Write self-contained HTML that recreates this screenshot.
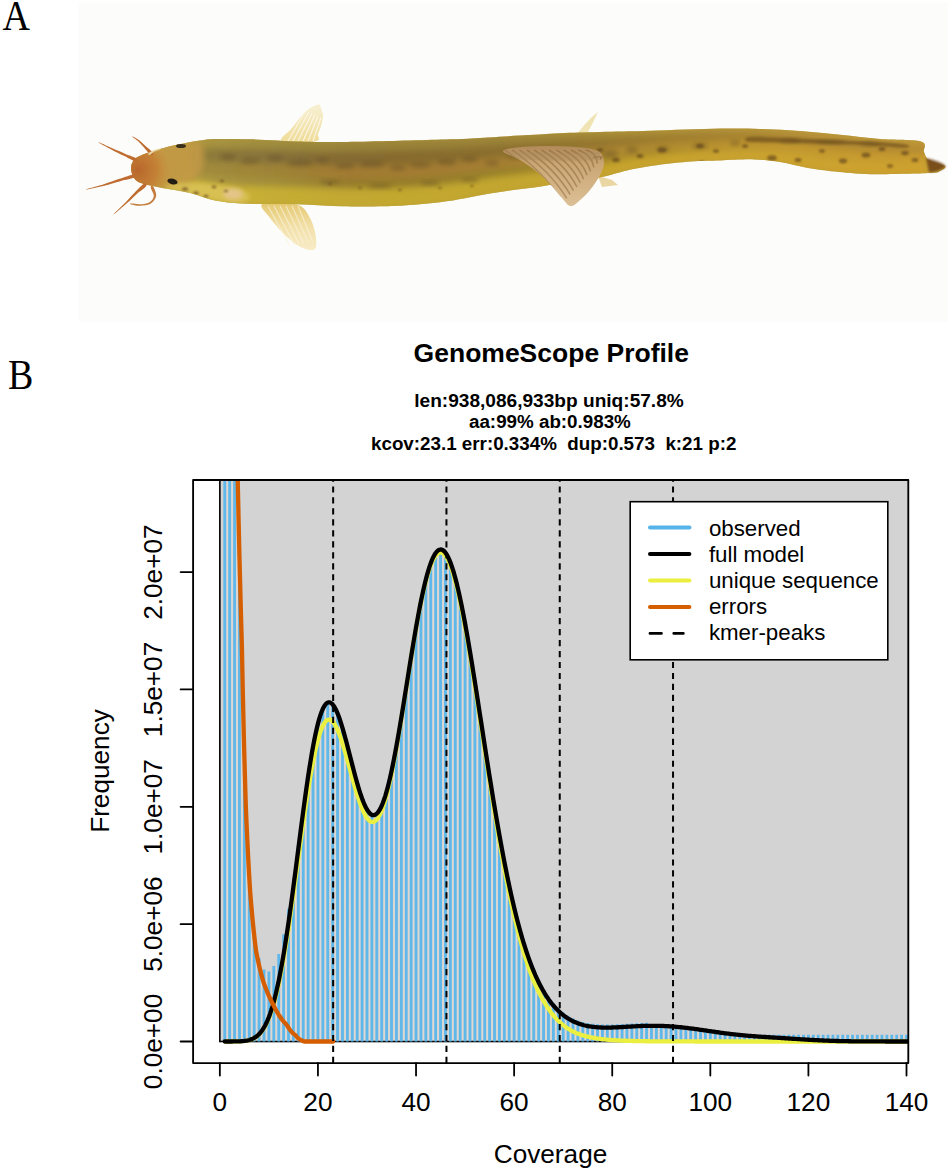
<!DOCTYPE html>
<html><head><meta charset="utf-8"><style>
html,body{margin:0;padding:0;background:#fff;width:950px;height:1172px;overflow:hidden}
svg{display:block;font-family:"Liberation Sans",sans-serif}
.ax{font-size:26.2px;fill:#000}
.ti{font-size:26.5px;font-weight:bold;fill:#000}
.st{font-size:18.8px;font-weight:bold;fill:#000}
.lg{font-size:22.3px;fill:#000}
.pl{font-family:"Liberation Serif",serif;font-size:38px;fill:#000}
</style></head><body>
<svg width="950" height="1172" viewBox="0 0 950 1172">
<rect x="78.5" y="2.5" width="869" height="319" fill="#fcfcfa"/>
<g id="fish"><defs><filter id="b2" x="-10%" y="-50%" width="120%" height="200%"><feGaussianBlur stdDeviation="2"/></filter><filter id="b3" x="-10%" y="-50%" width="120%" height="200%"><feGaussianBlur stdDeviation="3"/></filter><filter id="b5" x="-30%" y="-50%" width="160%" height="200%"><feGaussianBlur stdDeviation="5"/></filter><filter id="b1" x="-50%" y="-50%" width="200%" height="200%"><feGaussianBlur stdDeviation="1"/></filter><clipPath id="fb"><path d="M131.0 168.0 C131.0 165.0 132.2 162.2 134.0 160.0 C135.8 157.8 137.7 156.8 142.0 155.0 C146.3 153.2 154.0 150.8 160.0 149.0 C166.0 147.2 171.3 145.9 178.0 144.5 C184.7 143.1 193.8 141.4 200.0 140.5 C206.2 139.6 206.7 139.2 215.0 139.0 C223.3 138.8 235.8 138.9 250.0 139.3 C264.2 139.7 286.7 141.1 300.0 141.5 C313.3 141.9 318.3 142.0 330.0 142.0 C341.7 142.0 350.0 141.9 370.0 141.5 C390.0 141.1 430.3 140.0 450.0 139.3 C469.7 138.6 476.3 138.0 488.0 137.4 C499.7 136.8 508.0 136.3 520.0 135.6 C532.0 134.9 546.7 133.8 560.0 133.2 C573.3 132.6 585.0 132.4 600.0 132.0 C615.0 131.6 630.0 131.4 650.0 130.8 C670.0 130.2 701.7 128.9 720.0 128.6 C738.3 128.3 746.7 128.5 760.0 128.9 C773.3 129.3 786.7 130.0 800.0 131.0 C813.3 132.0 826.7 133.4 840.0 134.7 C853.3 136.0 866.5 137.9 880.0 139.0 C893.5 140.1 913.7 139.3 921.0 141.5 C928.3 143.7 922.7 148.9 924.0 152.0 C925.3 155.1 925.5 157.7 929.0 160.0 C932.5 162.3 943.2 164.2 945.0 166.0 C946.8 167.8 942.5 169.8 940.0 171.0 C937.5 172.2 941.5 172.5 930.0 173.0 C918.5 173.5 886.8 174.4 871.0 174.2 C855.2 173.9 845.5 172.5 835.0 171.5 C824.5 170.5 817.2 169.6 808.0 168.0 C798.8 166.4 789.0 163.4 780.0 162.0 C771.0 160.6 764.0 159.7 754.0 159.4 C744.0 159.1 729.8 160.1 720.0 160.4 C710.2 160.7 704.8 160.5 695.0 161.2 C685.2 161.9 672.3 163.0 661.0 164.6 C649.7 166.2 636.8 168.4 627.0 170.5 C617.2 172.6 611.5 175.2 602.0 177.0 C592.5 178.8 580.2 179.9 570.0 181.5 C559.8 183.1 550.2 185.1 541.0 186.5 C531.8 187.9 523.5 188.5 515.0 189.7 C506.5 190.9 498.3 192.1 490.0 193.5 C481.7 194.9 473.3 196.8 465.0 198.3 C456.7 199.8 449.2 201.2 440.0 202.3 C430.8 203.4 419.3 204.3 410.0 205.0 C400.7 205.7 395.3 206.1 384.0 206.3 C372.7 206.5 355.2 206.6 342.0 206.3 C328.8 206.0 317.0 204.9 305.0 204.5 C293.0 204.1 280.7 204.2 270.0 204.0 C259.3 203.8 250.2 204.1 241.0 203.5 C231.8 202.9 223.5 202.2 215.0 200.5 C206.5 198.8 199.2 195.2 190.0 193.0 C180.8 190.8 168.2 189.2 160.0 187.5 C151.8 185.8 145.3 184.6 141.0 183.0 C136.7 181.4 135.7 180.5 134.0 178.0 C132.3 175.5 131.0 171.0 131.0 168.0Z"/></clipPath><linearGradient id="fin1" x1="0" y1="0" x2="0" y2="1"><stop offset="0" stop-color="#f7f0d4"/><stop offset="1" stop-color="#efdc98"/></linearGradient><linearGradient id="fin2" x1="0" y1="0" x2="0" y2="1"><stop offset="0" stop-color="#e4c870"/><stop offset="0.5" stop-color="#f2e0a8"/><stop offset="1" stop-color="#f8ecc8"/></linearGradient><linearGradient id="pelg" x1="0" y1="0" x2="0" y2="1"><stop offset="0" stop-color="#b08a58"/><stop offset="0.3" stop-color="#caa674"/><stop offset="1" stop-color="#dcc096"/></linearGradient><radialGradient id="snout" cx="138" cy="170" r="34" gradientUnits="userSpaceOnUse"><stop offset="0" stop-color="#b8662c"/><stop offset="0.55" stop-color="#c47e34" stop-opacity="0.9"/><stop offset="1" stop-color="#c8923c" stop-opacity="0"/></radialGradient><linearGradient id="bg0" gradientUnits="userSpaceOnUse" x1="200" y1="0" x2="925" y2="0"><stop offset="0.000" stop-color="#a89440"/><stop offset="0.110" stop-color="#9c8a3c"/><stop offset="0.207" stop-color="#98823a"/><stop offset="0.414" stop-color="#9a8238"/><stop offset="0.621" stop-color="#a88a36"/><stop offset="0.828" stop-color="#b8923a"/><stop offset="1.000" stop-color="#c09638"/></linearGradient><linearGradient id="bg1" gradientUnits="userSpaceOnUse" x1="200" y1="0" x2="925" y2="0"><stop offset="0.000" stop-color="#8e7c3a"/><stop offset="0.110" stop-color="#86703a"/><stop offset="0.207" stop-color="#846a30"/><stop offset="0.414" stop-color="#8a6e2e"/><stop offset="0.621" stop-color="#9a7a2e"/><stop offset="0.828" stop-color="#aa8430"/><stop offset="1.000" stop-color="#b48a30"/></linearGradient><linearGradient id="bg2" gradientUnits="userSpaceOnUse" x1="200" y1="0" x2="925" y2="0"><stop offset="0.000" stop-color="#a08a3c"/><stop offset="0.110" stop-color="#9e8236"/><stop offset="0.207" stop-color="#a27a30"/><stop offset="0.414" stop-color="#a47e30"/><stop offset="0.621" stop-color="#b08a30"/><stop offset="0.828" stop-color="#c4982e"/><stop offset="1.000" stop-color="#c89a2e"/></linearGradient><linearGradient id="bg3" gradientUnits="userSpaceOnUse" x1="200" y1="0" x2="925" y2="0"><stop offset="0.000" stop-color="#a89440"/><stop offset="0.110" stop-color="#a08c38"/><stop offset="0.207" stop-color="#947a2c"/><stop offset="0.414" stop-color="#98802c"/><stop offset="0.621" stop-color="#ac8c2c"/><stop offset="0.828" stop-color="#c49c2e"/><stop offset="1.000" stop-color="#caa02e"/></linearGradient><linearGradient id="bg4" gradientUnits="userSpaceOnUse" x1="200" y1="0" x2="925" y2="0"><stop offset="0.000" stop-color="#ccb43a"/><stop offset="0.110" stop-color="#c4ac34"/><stop offset="0.207" stop-color="#c2a830"/><stop offset="0.414" stop-color="#c2a62e"/><stop offset="0.621" stop-color="#c8a42c"/><stop offset="0.828" stop-color="#cea42e"/><stop offset="1.000" stop-color="#d0a22e"/></linearGradient><linearGradient id="bg5" gradientUnits="userSpaceOnUse" x1="200" y1="0" x2="925" y2="0"><stop offset="0.000" stop-color="#ccb43a"/><stop offset="0.110" stop-color="#c6ae34"/><stop offset="0.207" stop-color="#c4aa30"/><stop offset="0.414" stop-color="#c4a62e"/><stop offset="0.621" stop-color="#caa22c"/><stop offset="0.828" stop-color="#cea02c"/><stop offset="1.000" stop-color="#cc9e2c"/></linearGradient></defs><path d="M282.0 141.0 C278.0 138.8 288.5 132.5 292.0 128.0 C295.5 123.5 299.7 117.5 303.0 114.0 C306.3 110.5 309.3 108.6 312.0 107.0 C314.7 105.4 317.5 104.3 319.0 104.5 C320.5 104.7 320.3 106.1 321.0 108.0 C321.7 109.9 323.0 113.0 323.0 116.0 C323.0 119.0 321.8 123.0 321.0 126.0 C320.2 129.0 318.8 131.5 318.0 134.0 C317.2 136.5 322.0 139.8 316.0 141.0 C310.0 142.2 286.0 143.2 282.0 141.0Z" fill="url(#fin1)"/><path d="M288 141 L306 110.0" stroke="#fffaf0" stroke-width="1.1" opacity="0.8"/><path d="M293 141 L309 111.5" stroke="#fffaf0" stroke-width="1.1" opacity="0.8"/><path d="M298 141 L312 113.0" stroke="#fffaf0" stroke-width="1.1" opacity="0.8"/><path d="M303 141 L315 114.5" stroke="#fffaf0" stroke-width="1.1" opacity="0.8"/><path d="M308 141 L318 116.0" stroke="#fffaf0" stroke-width="1.1" opacity="0.8"/><path d="M313 141 L321 117.5" stroke="#fffaf0" stroke-width="1.1" opacity="0.8"/><path d="M262.0 204.0 C258.7 206.3 266.5 213.2 270.0 218.0 C273.5 222.8 278.5 228.5 283.0 233.0 C287.5 237.5 292.5 242.2 297.0 245.0 C301.5 247.8 306.8 249.7 310.0 250.0 C313.2 250.3 315.2 250.0 316.0 247.0 C316.8 244.0 316.0 236.8 315.0 232.0 C314.0 227.2 312.2 222.2 310.0 218.0 C307.8 213.8 305.3 209.3 302.0 207.0 C298.7 204.7 296.7 204.5 290.0 204.0 C283.3 203.5 265.3 201.7 262.0 204.0Z" fill="url(#fin2)"/><path d="M268 206 L290.0 246" stroke="#fbf3dc" stroke-width="1.1" opacity="0.7"/><path d="M274 206 L294.5 245" stroke="#fbf3dc" stroke-width="1.1" opacity="0.7"/><path d="M280 206 L299.0 244" stroke="#fbf3dc" stroke-width="1.1" opacity="0.7"/><path d="M286 206 L303.5 243" stroke="#fbf3dc" stroke-width="1.1" opacity="0.7"/><path d="M292 206 L308.0 242" stroke="#fbf3dc" stroke-width="1.1" opacity="0.7"/><path d="M298 206 L312.5 241" stroke="#fbf3dc" stroke-width="1.1" opacity="0.7"/><path d="M577 134 C583 126 590 118 598 112 C594 121 590 128 587 134Z" fill="#f0e4b4"/><path d="M598 176 L612 180 L618 185 L602 187Z" fill="#ead6a2"/><path d="M131.0 168.0 C131.0 165.0 132.2 162.2 134.0 160.0 C135.8 157.8 137.7 156.8 142.0 155.0 C146.3 153.2 154.0 150.8 160.0 149.0 C166.0 147.2 171.3 145.9 178.0 144.5 C184.7 143.1 193.8 141.4 200.0 140.5 C206.2 139.6 206.7 139.2 215.0 139.0 C223.3 138.8 235.8 138.9 250.0 139.3 C264.2 139.7 286.7 141.1 300.0 141.5 C313.3 141.9 318.3 142.0 330.0 142.0 C341.7 142.0 350.0 141.9 370.0 141.5 C390.0 141.1 430.3 140.0 450.0 139.3 C469.7 138.6 476.3 138.0 488.0 137.4 C499.7 136.8 508.0 136.3 520.0 135.6 C532.0 134.9 546.7 133.8 560.0 133.2 C573.3 132.6 585.0 132.4 600.0 132.0 C615.0 131.6 630.0 131.4 650.0 130.8 C670.0 130.2 701.7 128.9 720.0 128.6 C738.3 128.3 746.7 128.5 760.0 128.9 C773.3 129.3 786.7 130.0 800.0 131.0 C813.3 132.0 826.7 133.4 840.0 134.7 C853.3 136.0 866.5 137.9 880.0 139.0 C893.5 140.1 913.7 139.3 921.0 141.5 C928.3 143.7 922.7 148.9 924.0 152.0 C925.3 155.1 925.5 157.7 929.0 160.0 C932.5 162.3 943.2 164.2 945.0 166.0 C946.8 167.8 942.5 169.8 940.0 171.0 C937.5 172.2 941.5 172.5 930.0 173.0 C918.5 173.5 886.8 174.4 871.0 174.2 C855.2 173.9 845.5 172.5 835.0 171.5 C824.5 170.5 817.2 169.6 808.0 168.0 C798.8 166.4 789.0 163.4 780.0 162.0 C771.0 160.6 764.0 159.7 754.0 159.4 C744.0 159.1 729.8 160.1 720.0 160.4 C710.2 160.7 704.8 160.5 695.0 161.2 C685.2 161.9 672.3 163.0 661.0 164.6 C649.7 166.2 636.8 168.4 627.0 170.5 C617.2 172.6 611.5 175.2 602.0 177.0 C592.5 178.8 580.2 179.9 570.0 181.5 C559.8 183.1 550.2 185.1 541.0 186.5 C531.8 187.9 523.5 188.5 515.0 189.7 C506.5 190.9 498.3 192.1 490.0 193.5 C481.7 194.9 473.3 196.8 465.0 198.3 C456.7 199.8 449.2 201.2 440.0 202.3 C430.8 203.4 419.3 204.3 410.0 205.0 C400.7 205.7 395.3 206.1 384.0 206.3 C372.7 206.5 355.2 206.6 342.0 206.3 C328.8 206.0 317.0 204.9 305.0 204.5 C293.0 204.1 280.7 204.2 270.0 204.0 C259.3 203.8 250.2 204.1 241.0 203.5 C231.8 202.9 223.5 202.2 215.0 200.5 C206.5 198.8 199.2 195.2 190.0 193.0 C180.8 190.8 168.2 189.2 160.0 187.5 C151.8 185.8 145.3 184.6 141.0 183.0 C136.7 181.4 135.7 180.5 134.0 178.0 C132.3 175.5 131.0 171.0 131.0 168.0Z" fill="#b89c38"/><g clip-path="url(#fb)"><g filter="url(#b3)"><path d="M190.0 141.1 L196.0 139.9 L202.0 138.9 L208.0 138.2 L214.0 137.6 L220.0 137.5 L226.0 137.5 L232.0 137.6 L238.0 137.6 L244.0 137.6 L250.0 137.7 L256.0 138.0 L262.0 138.2 L268.0 138.5 L274.0 138.8 L280.0 139.0 L286.0 139.3 L292.0 139.6 L298.0 139.8 L304.0 140.0 L310.0 140.1 L316.0 140.2 L322.0 140.3 L328.0 140.4 L334.0 140.4 L340.0 140.3 L346.0 140.2 L352.0 140.1 L358.0 140.0 L364.0 140.0 L370.0 139.9 L376.0 139.7 L382.0 139.5 L388.0 139.4 L394.0 139.2 L400.0 139.1 L406.0 138.9 L412.0 138.7 L418.0 138.6 L424.0 138.4 L430.0 138.3 L436.0 138.1 L442.0 138.0 L448.0 137.8 L454.0 137.6 L460.0 137.3 L466.0 137.0 L472.0 136.7 L478.0 136.5 L484.0 136.2 L490.0 135.9 L496.0 135.6 L502.0 135.2 L508.0 134.9 L514.0 134.6 L520.0 134.3 L526.0 133.9 L532.0 133.6 L538.0 133.2 L544.0 132.9 L550.0 132.5 L556.0 132.2 L562.0 131.9 L568.0 131.7 L574.0 131.6 L580.0 131.4 L586.0 131.2 L592.0 131.1 L598.0 130.9 L604.0 130.8 L610.0 130.7 L616.0 130.6 L622.0 130.5 L628.0 130.4 L634.0 130.2 L640.0 130.1 L646.0 130.0 L652.0 129.9 L658.0 129.7 L664.0 129.5 L670.0 129.3 L676.0 129.2 L682.0 129.0 L688.0 128.8 L694.0 128.6 L700.0 128.4 L706.0 128.2 L712.0 128.1 L718.0 127.9 L724.0 127.8 L730.0 127.9 L736.0 127.9 L742.0 128.0 L748.0 128.0 L754.0 128.1 L760.0 128.1 L766.0 128.4 L772.0 128.7 L778.0 129.0 L784.0 129.3 L790.0 129.6 L796.0 129.9 L802.0 130.3 L808.0 130.8 L814.0 131.4 L820.0 131.9 L826.0 132.5 L832.0 133.0 L838.0 133.6 L844.0 134.2 L850.0 134.9 L856.0 135.5 L862.0 136.2 L868.0 136.8 L874.0 137.5 L880.0 138.1 L886.0 138.5 L892.0 138.9 L898.0 139.2 L904.0 139.6 L910.0 140.0 L916.0 140.4 L922.0 140.7 L928.0 140.7 L928.0 146.4 L922.0 146.4 L916.0 146.1 L910.0 145.8 L904.0 145.5 L898.0 145.2 L892.0 144.9 L886.0 144.6 L880.0 144.3 L874.0 143.7 L868.0 143.1 L862.0 142.5 L856.0 141.9 L850.0 141.3 L844.0 140.7 L838.0 140.1 L832.0 139.5 L826.0 138.9 L820.0 138.4 L814.0 137.8 L808.0 137.2 L802.0 136.5 L796.0 136.0 L790.0 135.5 L784.0 135.1 L778.0 134.6 L772.0 134.3 L766.0 133.9 L760.0 133.6 L754.0 133.4 L748.0 133.4 L742.0 133.4 L736.0 133.4 L730.0 133.4 L724.0 133.4 L718.0 133.4 L712.0 133.6 L706.0 133.8 L700.0 134.0 L694.0 134.2 L688.0 134.4 L682.0 134.7 L676.0 135.0 L670.0 135.2 L664.0 135.5 L658.0 135.7 L652.0 136.1 L646.0 136.3 L640.0 136.6 L634.0 136.9 L628.0 137.2 L622.0 137.5 L616.0 137.9 L610.0 138.2 L604.0 138.6 L598.0 138.9 L592.0 139.2 L586.0 139.4 L580.0 139.7 L574.0 140.0 L568.0 140.3 L562.0 140.6 L556.0 141.0 L550.0 141.5 L544.0 141.9 L538.0 142.4 L532.0 142.8 L526.0 143.2 L520.0 143.6 L514.0 144.0 L508.0 144.4 L502.0 144.9 L496.0 145.3 L490.0 145.7 L484.0 146.2 L478.0 146.6 L472.0 147.0 L466.0 147.4 L460.0 147.8 L454.0 148.2 L448.0 148.6 L442.0 148.9 L436.0 149.1 L430.0 149.4 L424.0 149.6 L418.0 149.8 L412.0 150.0 L406.0 150.2 L400.0 150.4 L394.0 150.6 L388.0 150.8 L382.0 150.9 L376.0 151.1 L370.0 151.2 L364.0 151.3 L358.0 151.3 L352.0 151.4 L346.0 151.5 L340.0 151.5 L334.0 151.5 L328.0 151.5 L322.0 151.4 L316.0 151.3 L310.0 151.1 L304.0 151.0 L298.0 150.9 L292.0 150.6 L286.0 150.4 L280.0 150.1 L274.0 149.9 L268.0 149.7 L262.0 149.4 L256.0 149.2 L250.0 149.0 L244.0 148.9 L238.0 148.8 L232.0 148.6 L226.0 148.5 L220.0 148.3 L214.0 148.3 L208.0 148.5 L202.0 148.7 L196.0 149.3 L190.0 149.9Z" fill="url(#bg0)"/><path d="M190.0 149.9 L196.0 149.3 L202.0 148.7 L208.0 148.5 L214.0 148.3 L220.0 148.3 L226.0 148.5 L232.0 148.6 L238.0 148.8 L244.0 148.9 L250.0 149.0 L256.0 149.2 L262.0 149.4 L268.0 149.7 L274.0 149.9 L280.0 150.1 L286.0 150.4 L292.0 150.6 L298.0 150.9 L304.0 151.0 L310.0 151.1 L316.0 151.3 L322.0 151.4 L328.0 151.5 L334.0 151.5 L340.0 151.5 L346.0 151.5 L352.0 151.4 L358.0 151.3 L364.0 151.3 L370.0 151.2 L376.0 151.1 L382.0 150.9 L388.0 150.8 L394.0 150.6 L400.0 150.4 L406.0 150.2 L412.0 150.0 L418.0 149.8 L424.0 149.6 L430.0 149.4 L436.0 149.1 L442.0 148.9 L448.0 148.6 L454.0 148.2 L460.0 147.8 L466.0 147.4 L472.0 147.0 L478.0 146.6 L484.0 146.2 L490.0 145.7 L496.0 145.3 L502.0 144.9 L508.0 144.4 L514.0 144.0 L520.0 143.6 L526.0 143.2 L532.0 142.8 L538.0 142.4 L544.0 141.9 L550.0 141.5 L556.0 141.0 L562.0 140.6 L568.0 140.3 L574.0 140.0 L580.0 139.7 L586.0 139.4 L592.0 139.2 L598.0 138.9 L604.0 138.6 L610.0 138.2 L616.0 137.9 L622.0 137.5 L628.0 137.2 L634.0 136.9 L640.0 136.6 L646.0 136.3 L652.0 136.1 L658.0 135.7 L664.0 135.5 L670.0 135.2 L676.0 135.0 L682.0 134.7 L688.0 134.4 L694.0 134.2 L700.0 134.0 L706.0 133.8 L712.0 133.6 L718.0 133.4 L724.0 133.4 L730.0 133.4 L736.0 133.4 L742.0 133.4 L748.0 133.4 L754.0 133.4 L760.0 133.6 L766.0 133.9 L772.0 134.3 L778.0 134.6 L784.0 135.1 L790.0 135.5 L796.0 136.0 L802.0 136.5 L808.0 137.2 L814.0 137.8 L820.0 138.4 L826.0 138.9 L832.0 139.5 L838.0 140.1 L844.0 140.7 L850.0 141.3 L856.0 141.9 L862.0 142.5 L868.0 143.1 L874.0 143.7 L880.0 144.3 L886.0 144.6 L892.0 144.9 L898.0 145.2 L904.0 145.5 L910.0 145.8 L916.0 146.1 L922.0 146.4 L928.0 146.4 L928.0 153.8 L922.0 153.8 L916.0 153.6 L910.0 153.3 L904.0 153.1 L898.0 152.9 L892.0 152.7 L886.0 152.4 L880.0 152.2 L874.0 151.8 L868.0 151.3 L862.0 150.7 L856.0 150.2 L850.0 149.6 L844.0 149.0 L838.0 148.5 L832.0 147.9 L826.0 147.3 L820.0 146.6 L814.0 146.0 L808.0 145.3 L802.0 144.5 L796.0 143.8 L790.0 143.1 L784.0 142.4 L778.0 141.8 L772.0 141.4 L766.0 141.0 L760.0 140.6 L754.0 140.3 L748.0 140.3 L742.0 140.4 L736.0 140.4 L730.0 140.5 L724.0 140.5 L718.0 140.6 L712.0 140.8 L706.0 141.0 L700.0 141.2 L694.0 141.4 L688.0 141.7 L682.0 142.1 L676.0 142.4 L670.0 142.7 L664.0 143.1 L658.0 143.5 L652.0 144.0 L646.0 144.5 L640.0 145.0 L634.0 145.5 L628.0 146.0 L622.0 146.6 L616.0 147.3 L610.0 147.9 L604.0 148.6 L598.0 149.1 L592.0 149.6 L586.0 150.0 L580.0 150.4 L574.0 150.8 L568.0 151.3 L562.0 151.8 L556.0 152.4 L550.0 153.0 L544.0 153.6 L538.0 154.2 L532.0 154.7 L526.0 155.2 L520.0 155.7 L514.0 156.2 L508.0 156.7 L502.0 157.3 L496.0 157.8 L490.0 158.4 L484.0 159.0 L478.0 159.6 L472.0 160.2 L466.0 160.9 L460.0 161.4 L454.0 162.0 L448.0 162.5 L442.0 162.9 L436.0 163.3 L430.0 163.6 L424.0 163.9 L418.0 164.2 L412.0 164.5 L406.0 164.8 L400.0 165.0 L394.0 165.2 L388.0 165.4 L382.0 165.6 L376.0 165.7 L370.0 165.8 L364.0 165.8 L358.0 165.9 L352.0 165.9 L346.0 166.0 L340.0 166.0 L334.0 165.9 L328.0 165.8 L322.0 165.7 L316.0 165.5 L310.0 165.3 L304.0 165.2 L298.0 165.0 L292.0 164.8 L286.0 164.6 L280.0 164.4 L274.0 164.2 L268.0 164.0 L262.0 163.8 L256.0 163.6 L250.0 163.4 L244.0 163.4 L238.0 163.2 L232.0 162.9 L226.0 162.6 L220.0 162.3 L214.0 162.0 L208.0 161.7 L202.0 161.4 L196.0 161.3 L190.0 161.3Z" fill="url(#bg1)"/><path d="M190.0 161.3 L196.0 161.3 L202.0 161.4 L208.0 161.7 L214.0 162.0 L220.0 162.3 L226.0 162.6 L232.0 162.9 L238.0 163.2 L244.0 163.4 L250.0 163.4 L256.0 163.6 L262.0 163.8 L268.0 164.0 L274.0 164.2 L280.0 164.4 L286.0 164.6 L292.0 164.8 L298.0 165.0 L304.0 165.2 L310.0 165.3 L316.0 165.5 L322.0 165.7 L328.0 165.8 L334.0 165.9 L340.0 166.0 L346.0 166.0 L352.0 165.9 L358.0 165.9 L364.0 165.8 L370.0 165.8 L376.0 165.7 L382.0 165.6 L388.0 165.4 L394.0 165.2 L400.0 165.0 L406.0 164.8 L412.0 164.5 L418.0 164.2 L424.0 163.9 L430.0 163.6 L436.0 163.3 L442.0 162.9 L448.0 162.5 L454.0 162.0 L460.0 161.4 L466.0 160.9 L472.0 160.2 L478.0 159.6 L484.0 159.0 L490.0 158.4 L496.0 157.8 L502.0 157.3 L508.0 156.7 L514.0 156.2 L520.0 155.7 L526.0 155.2 L532.0 154.7 L538.0 154.2 L544.0 153.6 L550.0 153.0 L556.0 152.4 L562.0 151.8 L568.0 151.3 L574.0 150.8 L580.0 150.4 L586.0 150.0 L592.0 149.6 L598.0 149.1 L604.0 148.6 L610.0 147.9 L616.0 147.3 L622.0 146.6 L628.0 146.0 L634.0 145.5 L640.0 145.0 L646.0 144.5 L652.0 144.0 L658.0 143.5 L664.0 143.1 L670.0 142.7 L676.0 142.4 L682.0 142.1 L688.0 141.7 L694.0 141.4 L700.0 141.2 L706.0 141.0 L712.0 140.8 L718.0 140.6 L724.0 140.5 L730.0 140.5 L736.0 140.4 L742.0 140.4 L748.0 140.3 L754.0 140.3 L760.0 140.6 L766.0 141.0 L772.0 141.4 L778.0 141.8 L784.0 142.4 L790.0 143.1 L796.0 143.8 L802.0 144.5 L808.0 145.3 L814.0 146.0 L820.0 146.6 L826.0 147.3 L832.0 147.9 L838.0 148.5 L844.0 149.0 L850.0 149.6 L856.0 150.2 L862.0 150.7 L868.0 151.3 L874.0 151.8 L880.0 152.2 L886.0 152.4 L892.0 152.7 L898.0 152.9 L904.0 153.1 L910.0 153.3 L916.0 153.6 L922.0 153.8 L928.0 153.8 L928.0 160.3 L922.0 160.3 L916.0 160.2 L910.0 160.0 L904.0 159.9 L898.0 159.7 L892.0 159.6 L886.0 159.4 L880.0 159.2 L874.0 159.0 L868.0 158.6 L862.0 158.0 L856.0 157.5 L850.0 157.0 L844.0 156.4 L838.0 155.9 L832.0 155.3 L826.0 154.6 L820.0 154.0 L814.0 153.3 L808.0 152.6 L802.0 151.6 L796.0 150.7 L790.0 149.8 L784.0 149.0 L778.0 148.2 L772.0 147.7 L766.0 147.3 L760.0 146.8 L754.0 146.4 L748.0 146.5 L742.0 146.6 L736.0 146.7 L730.0 146.7 L724.0 146.8 L718.0 146.9 L712.0 147.1 L706.0 147.3 L700.0 147.5 L694.0 147.7 L688.0 148.2 L682.0 148.6 L676.0 149.0 L670.0 149.5 L664.0 149.9 L658.0 150.4 L652.0 151.1 L646.0 151.8 L640.0 152.4 L634.0 153.1 L628.0 153.8 L622.0 154.7 L616.0 155.6 L610.0 156.6 L604.0 157.5 L598.0 158.2 L592.0 158.8 L586.0 159.3 L580.0 159.9 L574.0 160.5 L568.0 161.1 L562.0 161.7 L556.0 162.5 L550.0 163.2 L544.0 164.0 L538.0 164.6 L532.0 165.2 L526.0 165.8 L520.0 166.4 L514.0 166.9 L508.0 167.6 L502.0 168.3 L496.0 168.9 L490.0 169.6 L484.0 170.4 L478.0 171.2 L472.0 172.0 L466.0 172.8 L460.0 173.5 L454.0 174.2 L448.0 174.8 L442.0 175.4 L436.0 175.9 L430.0 176.3 L424.0 176.7 L418.0 177.0 L412.0 177.4 L406.0 177.7 L400.0 177.9 L394.0 178.2 L388.0 178.4 L382.0 178.6 L376.0 178.7 L370.0 178.8 L364.0 178.8 L358.0 178.8 L352.0 178.9 L346.0 178.9 L340.0 178.9 L334.0 178.7 L328.0 178.6 L322.0 178.4 L316.0 178.1 L310.0 177.9 L304.0 177.7 L298.0 177.6 L292.0 177.5 L286.0 177.3 L280.0 177.1 L274.0 177.0 L268.0 176.8 L262.0 176.6 L256.0 176.5 L250.0 176.3 L244.0 176.2 L238.0 176.0 L232.0 175.6 L226.0 175.1 L220.0 174.7 L214.0 174.2 L208.0 173.5 L202.0 172.7 L196.0 172.0 L190.0 171.5Z" fill="url(#bg2)"/><path d="M190.0 171.5 L196.0 172.0 L202.0 172.7 L208.0 173.5 L214.0 174.2 L220.0 174.7 L226.0 175.1 L232.0 175.6 L238.0 176.0 L244.0 176.2 L250.0 176.3 L256.0 176.5 L262.0 176.6 L268.0 176.8 L274.0 177.0 L280.0 177.1 L286.0 177.3 L292.0 177.5 L298.0 177.6 L304.0 177.7 L310.0 177.9 L316.0 178.1 L322.0 178.4 L328.0 178.6 L334.0 178.7 L340.0 178.9 L346.0 178.9 L352.0 178.9 L358.0 178.8 L364.0 178.8 L370.0 178.8 L376.0 178.7 L382.0 178.6 L388.0 178.4 L394.0 178.2 L400.0 177.9 L406.0 177.7 L412.0 177.4 L418.0 177.0 L424.0 176.7 L430.0 176.3 L436.0 175.9 L442.0 175.4 L448.0 174.8 L454.0 174.2 L460.0 173.5 L466.0 172.8 L472.0 172.0 L478.0 171.2 L484.0 170.4 L490.0 169.6 L496.0 168.9 L502.0 168.3 L508.0 167.6 L514.0 166.9 L520.0 166.4 L526.0 165.8 L532.0 165.2 L538.0 164.6 L544.0 164.0 L550.0 163.2 L556.0 162.5 L562.0 161.7 L568.0 161.1 L574.0 160.5 L580.0 159.9 L586.0 159.3 L592.0 158.8 L598.0 158.2 L604.0 157.5 L610.0 156.6 L616.0 155.6 L622.0 154.7 L628.0 153.8 L634.0 153.1 L640.0 152.4 L646.0 151.8 L652.0 151.1 L658.0 150.4 L664.0 149.9 L670.0 149.5 L676.0 149.0 L682.0 148.6 L688.0 148.2 L694.0 147.7 L700.0 147.5 L706.0 147.3 L712.0 147.1 L718.0 146.9 L724.0 146.8 L730.0 146.7 L736.0 146.7 L742.0 146.6 L748.0 146.5 L754.0 146.4 L760.0 146.8 L766.0 147.3 L772.0 147.7 L778.0 148.2 L784.0 149.0 L790.0 149.8 L796.0 150.7 L802.0 151.6 L808.0 152.6 L814.0 153.3 L820.0 154.0 L826.0 154.6 L832.0 155.3 L838.0 155.9 L844.0 156.4 L850.0 157.0 L856.0 157.5 L862.0 158.0 L868.0 158.6 L874.0 159.0 L880.0 159.2 L886.0 159.4 L892.0 159.6 L898.0 159.7 L904.0 159.9 L910.0 160.0 L916.0 160.2 L922.0 160.3 L928.0 160.3 L928.0 165.2 L922.0 165.2 L916.0 165.1 L910.0 165.0 L904.0 164.9 L898.0 164.8 L892.0 164.7 L886.0 164.6 L880.0 164.5 L874.0 164.3 L868.0 164.0 L862.0 163.5 L856.0 163.0 L850.0 162.5 L844.0 162.0 L838.0 161.5 L832.0 160.9 L826.0 160.2 L820.0 159.5 L814.0 158.7 L808.0 158.0 L802.0 156.9 L796.0 155.9 L790.0 154.9 L784.0 153.9 L778.0 153.0 L772.0 152.5 L766.0 152.0 L760.0 151.4 L754.0 151.0 L748.0 151.1 L742.0 151.2 L736.0 151.3 L730.0 151.5 L724.0 151.6 L718.0 151.7 L712.0 151.9 L706.0 152.1 L700.0 152.3 L694.0 152.5 L688.0 153.0 L682.0 153.5 L676.0 154.0 L670.0 154.5 L664.0 155.0 L658.0 155.6 L652.0 156.4 L646.0 157.2 L640.0 158.0 L634.0 158.8 L628.0 159.6 L622.0 160.7 L616.0 161.9 L610.0 163.1 L604.0 164.2 L598.0 165.0 L592.0 165.7 L586.0 166.4 L580.0 167.0 L574.0 167.7 L568.0 168.4 L562.0 169.2 L556.0 170.0 L550.0 170.9 L544.0 171.7 L538.0 172.5 L532.0 173.1 L526.0 173.7 L520.0 174.4 L514.0 175.0 L508.0 175.8 L502.0 176.5 L496.0 177.3 L490.0 178.0 L484.0 179.0 L478.0 179.9 L472.0 180.8 L466.0 181.7 L460.0 182.5 L454.0 183.3 L448.0 184.1 L442.0 184.8 L436.0 185.3 L430.0 185.8 L424.0 186.2 L418.0 186.7 L412.0 187.1 L406.0 187.4 L400.0 187.7 L394.0 187.9 L388.0 188.2 L382.0 188.4 L376.0 188.4 L370.0 188.5 L364.0 188.5 L358.0 188.5 L352.0 188.5 L346.0 188.6 L340.0 188.5 L334.0 188.3 L328.0 188.1 L322.0 187.9 L316.0 187.6 L310.0 187.4 L304.0 187.2 L298.0 187.1 L292.0 186.9 L286.0 186.8 L280.0 186.7 L274.0 186.5 L268.0 186.4 L262.0 186.3 L256.0 186.1 L250.0 186.0 L244.0 185.9 L238.0 185.6 L232.0 185.0 L226.0 184.5 L220.0 184.0 L214.0 183.4 L208.0 182.3 L202.0 181.1 L196.0 180.1 L190.0 179.1Z" fill="url(#bg3)"/><path d="M190.0 179.1 L196.0 180.1 L202.0 181.1 L208.0 182.3 L214.0 183.4 L220.0 184.0 L226.0 184.5 L232.0 185.0 L238.0 185.6 L244.0 185.9 L250.0 186.0 L256.0 186.1 L262.0 186.3 L268.0 186.4 L274.0 186.5 L280.0 186.7 L286.0 186.8 L292.0 186.9 L298.0 187.1 L304.0 187.2 L310.0 187.4 L316.0 187.6 L322.0 187.9 L328.0 188.1 L334.0 188.3 L340.0 188.5 L346.0 188.6 L352.0 188.5 L358.0 188.5 L364.0 188.5 L370.0 188.5 L376.0 188.4 L382.0 188.4 L388.0 188.2 L394.0 187.9 L400.0 187.7 L406.0 187.4 L412.0 187.1 L418.0 186.7 L424.0 186.2 L430.0 185.8 L436.0 185.3 L442.0 184.8 L448.0 184.1 L454.0 183.3 L460.0 182.5 L466.0 181.7 L472.0 180.8 L478.0 179.9 L484.0 179.0 L490.0 178.0 L496.0 177.3 L502.0 176.5 L508.0 175.8 L514.0 175.0 L520.0 174.4 L526.0 173.7 L532.0 173.1 L538.0 172.5 L544.0 171.7 L550.0 170.9 L556.0 170.0 L562.0 169.2 L568.0 168.4 L574.0 167.7 L580.0 167.0 L586.0 166.4 L592.0 165.7 L598.0 165.0 L604.0 164.2 L610.0 163.1 L616.0 161.9 L622.0 160.7 L628.0 159.6 L634.0 158.8 L640.0 158.0 L646.0 157.2 L652.0 156.4 L658.0 155.6 L664.0 155.0 L670.0 154.5 L676.0 154.0 L682.0 153.5 L688.0 153.0 L694.0 152.5 L700.0 152.3 L706.0 152.1 L712.0 151.9 L718.0 151.7 L724.0 151.6 L730.0 151.5 L736.0 151.3 L742.0 151.2 L748.0 151.1 L754.0 151.0 L760.0 151.4 L766.0 152.0 L772.0 152.5 L778.0 153.0 L784.0 153.9 L790.0 154.9 L796.0 155.9 L802.0 156.9 L808.0 158.0 L814.0 158.7 L820.0 159.5 L826.0 160.2 L832.0 160.9 L838.0 161.5 L844.0 162.0 L850.0 162.5 L856.0 163.0 L862.0 163.5 L868.0 164.0 L874.0 164.3 L880.0 164.5 L886.0 164.6 L892.0 164.7 L898.0 164.8 L904.0 164.9 L910.0 165.0 L916.0 165.1 L922.0 165.2 L928.0 165.2 L928.0 171.7 L922.0 171.7 L916.0 171.7 L910.0 171.7 L904.0 171.7 L898.0 171.6 L892.0 171.6 L886.0 171.6 L880.0 171.6 L874.0 171.5 L868.0 171.3 L862.0 170.8 L856.0 170.3 L850.0 169.9 L844.0 169.4 L838.0 168.9 L832.0 168.3 L826.0 167.6 L820.0 166.8 L814.0 166.0 L808.0 165.3 L802.0 164.0 L796.0 162.8 L790.0 161.6 L784.0 160.4 L778.0 159.4 L772.0 158.8 L766.0 158.2 L760.0 157.7 L754.0 157.1 L748.0 157.3 L742.0 157.4 L736.0 157.6 L730.0 157.7 L724.0 157.9 L718.0 158.1 L712.0 158.3 L706.0 158.5 L700.0 158.7 L694.0 158.9 L688.0 159.5 L682.0 160.0 L676.0 160.6 L670.0 161.2 L664.0 161.8 L658.0 162.5 L652.0 163.5 L646.0 164.5 L640.0 165.5 L634.0 166.4 L628.0 167.4 L622.0 168.8 L616.0 170.2 L610.0 171.7 L604.0 173.1 L598.0 174.1 L592.0 174.9 L586.0 175.7 L580.0 176.5 L574.0 177.3 L568.0 178.2 L562.0 179.1 L556.0 180.1 L550.0 181.1 L544.0 182.1 L538.0 182.9 L532.0 183.7 L526.0 184.4 L520.0 185.1 L514.0 185.8 L508.0 186.7 L502.0 187.5 L496.0 188.4 L490.0 189.3 L484.0 190.4 L478.0 191.5 L472.0 192.5 L466.0 193.6 L460.0 194.6 L454.0 195.5 L448.0 196.4 L442.0 197.3 L436.0 197.9 L430.0 198.4 L424.0 199.0 L418.0 199.5 L412.0 200.0 L406.0 200.3 L400.0 200.6 L394.0 200.9 L388.0 201.2 L382.0 201.4 L376.0 201.4 L370.0 201.4 L364.0 201.4 L358.0 201.5 L352.0 201.5 L346.0 201.5 L340.0 201.4 L334.0 201.1 L328.0 200.8 L322.0 200.6 L316.0 200.3 L310.0 200.0 L304.0 199.8 L298.0 199.7 L292.0 199.6 L286.0 199.5 L280.0 199.4 L274.0 199.3 L268.0 199.2 L262.0 199.1 L256.0 198.9 L250.0 198.8 L244.0 198.7 L238.0 198.4 L232.0 197.7 L226.0 197.1 L220.0 196.4 L214.0 195.6 L208.0 194.0 L202.0 192.4 L196.0 190.8 L190.0 189.2Z" fill="url(#bg4)"/><path d="M190.0 189.2 L196.0 190.8 L202.0 192.4 L208.0 194.0 L214.0 195.6 L220.0 196.4 L226.0 197.1 L232.0 197.7 L238.0 198.4 L244.0 198.7 L250.0 198.8 L256.0 198.9 L262.0 199.1 L268.0 199.2 L274.0 199.3 L280.0 199.4 L286.0 199.5 L292.0 199.6 L298.0 199.7 L304.0 199.8 L310.0 200.0 L316.0 200.3 L322.0 200.6 L328.0 200.8 L334.0 201.1 L340.0 201.4 L346.0 201.5 L352.0 201.5 L358.0 201.5 L364.0 201.4 L370.0 201.4 L376.0 201.4 L382.0 201.4 L388.0 201.2 L394.0 200.9 L400.0 200.6 L406.0 200.3 L412.0 200.0 L418.0 199.5 L424.0 199.0 L430.0 198.4 L436.0 197.9 L442.0 197.3 L448.0 196.4 L454.0 195.5 L460.0 194.6 L466.0 193.6 L472.0 192.5 L478.0 191.5 L484.0 190.4 L490.0 189.3 L496.0 188.4 L502.0 187.5 L508.0 186.7 L514.0 185.8 L520.0 185.1 L526.0 184.4 L532.0 183.7 L538.0 182.9 L544.0 182.1 L550.0 181.1 L556.0 180.1 L562.0 179.1 L568.0 178.2 L574.0 177.3 L580.0 176.5 L586.0 175.7 L592.0 174.9 L598.0 174.1 L604.0 173.1 L610.0 171.7 L616.0 170.2 L622.0 168.8 L628.0 167.4 L634.0 166.4 L640.0 165.5 L646.0 164.5 L652.0 163.5 L658.0 162.5 L664.0 161.8 L670.0 161.2 L676.0 160.6 L682.0 160.0 L688.0 159.5 L694.0 158.9 L700.0 158.7 L706.0 158.5 L712.0 158.3 L718.0 158.1 L724.0 157.9 L730.0 157.7 L736.0 157.6 L742.0 157.4 L748.0 157.3 L754.0 157.1 L760.0 157.7 L766.0 158.2 L772.0 158.8 L778.0 159.4 L784.0 160.4 L790.0 161.6 L796.0 162.8 L802.0 164.0 L808.0 165.3 L814.0 166.0 L820.0 166.8 L826.0 167.6 L832.0 168.3 L838.0 168.9 L844.0 169.4 L850.0 169.9 L856.0 170.3 L862.0 170.8 L868.0 171.3 L874.0 171.5 L880.0 171.6 L886.0 171.6 L892.0 171.6 L898.0 171.6 L904.0 171.7 L910.0 171.7 L916.0 171.7 L922.0 171.7 L928.0 171.7 L928.0 175.0 L922.0 175.0 L916.0 175.0 L910.0 175.0 L904.0 175.0 L898.0 175.1 L892.0 175.1 L886.0 175.1 L880.0 175.1 L874.0 175.1 L868.0 174.9 L862.0 174.4 L856.0 174.0 L850.0 173.5 L844.0 173.1 L838.0 172.7 L832.0 172.0 L826.0 171.3 L820.0 170.5 L814.0 169.7 L808.0 168.9 L802.0 167.6 L796.0 166.3 L790.0 165.0 L784.0 163.7 L778.0 162.6 L772.0 162.0 L766.0 161.4 L760.0 160.8 L754.0 160.2 L748.0 160.3 L742.0 160.5 L736.0 160.7 L730.0 160.9 L724.0 161.1 L718.0 161.3 L712.0 161.5 L706.0 161.6 L700.0 161.8 L694.0 162.1 L688.0 162.7 L682.0 163.3 L676.0 163.9 L670.0 164.5 L664.0 165.1 L658.0 166.0 L652.0 167.0 L646.0 168.1 L640.0 169.2 L634.0 170.2 L628.0 171.3 L622.0 172.8 L616.0 174.4 L610.0 176.0 L604.0 177.6 L598.0 178.7 L592.0 179.6 L586.0 180.4 L580.0 181.3 L574.0 182.1 L568.0 183.1 L562.0 184.1 L556.0 185.2 L550.0 186.2 L544.0 187.3 L538.0 188.2 L532.0 188.9 L526.0 189.7 L520.0 190.4 L514.0 191.2 L508.0 192.1 L502.0 193.1 L496.0 194.0 L490.0 194.9 L484.0 196.1 L478.0 197.3 L472.0 198.4 L466.0 199.6 L460.0 200.6 L454.0 201.6 L448.0 202.6 L442.0 203.5 L436.0 204.2 L430.0 204.8 L424.0 205.3 L418.0 205.9 L412.0 206.4 L406.0 206.8 L400.0 207.1 L394.0 207.4 L388.0 207.7 L382.0 207.9 L376.0 207.9 L370.0 207.9 L364.0 207.9 L358.0 207.9 L352.0 207.9 L346.0 207.9 L340.0 207.8 L334.0 207.5 L328.0 207.2 L322.0 206.9 L316.0 206.6 L310.0 206.3 L304.0 206.1 L298.0 206.0 L292.0 205.9 L286.0 205.8 L280.0 205.7 L274.0 205.6 L268.0 205.6 L262.0 205.5 L256.0 205.4 L250.0 205.3 L244.0 205.2 L238.0 204.8 L232.0 204.0 L226.0 203.3 L220.0 202.6 L214.0 201.7 L208.0 199.9 L202.0 198.0 L196.0 196.1 L190.0 194.3Z" fill="url(#bg5)"/></g><path d="M126.0 168.0 C126.3 163.3 128.3 156.0 134.0 152.0 C139.7 148.0 151.5 145.8 160.0 144.0 C168.5 142.2 178.3 141.2 185.0 141.0 C191.7 140.8 196.8 139.8 200.0 143.0 C203.2 146.2 204.7 154.2 204.0 160.0 C203.3 165.8 200.8 173.7 196.0 178.0 C191.2 182.3 182.7 184.7 175.0 186.0 C167.3 187.3 157.2 187.0 150.0 186.0 C142.8 185.0 136.0 183.0 132.0 180.0 C128.0 177.0 125.7 172.7 126.0 168.0Z" fill="#c39a46" filter="url(#b3)" opacity="0.9"/><circle cx="138" cy="170" r="36" fill="url(#snout)"/><path d="M165.0 188.0 C166.7 189.8 181.7 192.0 190.0 194.0 C198.3 196.0 206.7 198.5 215.0 200.0 C223.3 201.5 234.2 203.7 240.0 203.0 C245.8 202.3 250.8 198.5 250.0 196.0 C249.2 193.5 242.5 190.0 235.0 188.0 C227.5 186.0 214.2 184.8 205.0 184.0 C195.8 183.2 186.7 182.3 180.0 183.0 C173.3 183.7 163.3 186.2 165.0 188.0Z" fill="#dcc258" opacity="0.85" filter="url(#b2)"/><ellipse cx="233" cy="194" rx="10" ry="5.5" fill="#e8c8a0" opacity="0.7" filter="url(#b2)"/><ellipse cx="228" cy="157" rx="8" ry="3.5" fill="#5e4a24" opacity="0.35" filter="url(#b2)"/><ellipse cx="250" cy="161" rx="10" ry="3" fill="#5e4a24" opacity="0.35" filter="url(#b2)"/><ellipse cx="275" cy="158" rx="8" ry="3" fill="#5e4a24" opacity="0.35" filter="url(#b2)"/><ellipse cx="300" cy="163" rx="13" ry="3.5" fill="#5e4a24" opacity="0.35" filter="url(#b2)"/><ellipse cx="322" cy="160" rx="7" ry="3" fill="#5e4a24" opacity="0.35" filter="url(#b2)"/><ellipse cx="345" cy="166" rx="9" ry="3" fill="#5e4a24" opacity="0.35" filter="url(#b2)"/><ellipse cx="372" cy="164" rx="12" ry="3.5" fill="#5e4a24" opacity="0.35" filter="url(#b2)"/><ellipse cx="398" cy="168" rx="8" ry="3" fill="#5e4a24" opacity="0.35" filter="url(#b2)"/><ellipse cx="420" cy="165" rx="11" ry="3" fill="#5e4a24" opacity="0.35" filter="url(#b2)"/><ellipse cx="447" cy="162" rx="9" ry="3.5" fill="#5e4a24" opacity="0.35" filter="url(#b2)"/><ellipse cx="470" cy="159" rx="8" ry="3" fill="#5e4a24" opacity="0.35" filter="url(#b2)"/><ellipse cx="492" cy="163" rx="7" ry="3" fill="#5e4a24" opacity="0.35" filter="url(#b2)"/><ellipse cx="515" cy="156" rx="9" ry="3" fill="#5e4a24" opacity="0.35" filter="url(#b2)"/><ellipse cx="610" cy="154" rx="8" ry="4" fill="#5e4a24" opacity="0.35" filter="url(#b2)"/><ellipse cx="632" cy="150" rx="6" ry="3.5" fill="#5e4a24" opacity="0.35" filter="url(#b2)"/><ellipse cx="663" cy="149" rx="7" ry="3" fill="#5e4a24" opacity="0.35" filter="url(#b2)"/><ellipse cx="700" cy="146" rx="8" ry="3" fill="#5e4a24" opacity="0.35" filter="url(#b2)"/><ellipse cx="735" cy="143" rx="5" ry="3" fill="#5e4a24" opacity="0.35" filter="url(#b2)"/><ellipse cx="790" cy="141" rx="10" ry="2.5" fill="#5e4a24" opacity="0.35" filter="url(#b2)"/><ellipse cx="830" cy="142" rx="14" ry="2" fill="#5e4a24" opacity="0.35" filter="url(#b2)"/><ellipse cx="870" cy="144" rx="10" ry="2" fill="#5e4a24" opacity="0.35" filter="url(#b2)"/><ellipse cx="330" cy="182" rx="10" ry="2.5" fill="#5e4a24" opacity="0.35" filter="url(#b2)"/><ellipse cx="380" cy="186" rx="12" ry="2.5" fill="#5e4a24" opacity="0.35" filter="url(#b2)"/><ellipse cx="430" cy="183" rx="10" ry="2.5" fill="#5e4a24" opacity="0.35" filter="url(#b2)"/><ellipse cx="470" cy="180" rx="9" ry="2.5" fill="#5e4a24" opacity="0.35" filter="url(#b2)"/><ellipse cx="185" cy="189" rx="3.06" ry="1.8" fill="#5a3e1a" opacity="0.6" filter="url(#b1)"/><ellipse cx="196" cy="193" rx="2.8899999999999997" ry="1.7" fill="#5a3e1a" opacity="0.6" filter="url(#b1)"/><ellipse cx="206" cy="196" rx="2.55" ry="1.5" fill="#5a3e1a" opacity="0.6" filter="url(#b1)"/><ellipse cx="214" cy="187" rx="2.38" ry="1.4" fill="#5a3e1a" opacity="0.6" filter="url(#b1)"/><ellipse cx="226" cy="191" rx="2.21" ry="1.3" fill="#5a3e1a" opacity="0.6" filter="url(#b1)"/><ellipse cx="178" cy="193" rx="2.21" ry="1.3" fill="#5a3e1a" opacity="0.6" filter="url(#b1)"/><ellipse cx="222" cy="181" rx="2.04" ry="1.2" fill="#5a3e1a" opacity="0.6" filter="url(#b1)"/><ellipse cx="330" cy="184" rx="1.87" ry="1.1" fill="#5a3e1a" opacity="0.6" filter="url(#b1)"/><ellipse cx="360" cy="188" rx="1.87" ry="1.1" fill="#5a3e1a" opacity="0.6" filter="url(#b1)"/><ellipse cx="400" cy="190" rx="1.87" ry="1.1" fill="#5a3e1a" opacity="0.6" filter="url(#b1)"/><ellipse cx="440" cy="188" rx="1.87" ry="1.1" fill="#5a3e1a" opacity="0.6" filter="url(#b1)"/><ellipse cx="472" cy="186" rx="1.87" ry="1.1" fill="#5a3e1a" opacity="0.6" filter="url(#b1)"/><ellipse cx="640" cy="156" rx="3.4" ry="2.0" fill="#5a3e1a" opacity="0.6" filter="url(#b1)"/><ellipse cx="662" cy="150" rx="4.42" ry="2.6" fill="#5a3e1a" opacity="0.6" filter="url(#b1)"/><ellipse cx="700" cy="146" rx="3.74" ry="2.2" fill="#5a3e1a" opacity="0.6" filter="url(#b1)"/><ellipse cx="716" cy="151" rx="3.06" ry="1.8" fill="#5a3e1a" opacity="0.6" filter="url(#b1)"/><ellipse cx="745" cy="146" rx="3.06" ry="1.8" fill="#5a3e1a" opacity="0.6" filter="url(#b1)"/><ellipse cx="772" cy="158" rx="4.76" ry="2.8" fill="#5a3e1a" opacity="0.6" filter="url(#b1)"/><ellipse cx="798" cy="160" rx="3.4" ry="2.0" fill="#5a3e1a" opacity="0.6" filter="url(#b1)"/><ellipse cx="843" cy="161" rx="4.08" ry="2.4" fill="#5a3e1a" opacity="0.6" filter="url(#b1)"/><ellipse cx="866" cy="155" rx="4.42" ry="2.6" fill="#5a3e1a" opacity="0.6" filter="url(#b1)"/><ellipse cx="882" cy="149" rx="3.4" ry="2.0" fill="#5a3e1a" opacity="0.6" filter="url(#b1)"/><ellipse cx="905" cy="153" rx="3.74" ry="2.2" fill="#5a3e1a" opacity="0.6" filter="url(#b1)"/><ellipse cx="742" cy="164" rx="3.06" ry="1.8" fill="#5a3e1a" opacity="0.6" filter="url(#b1)"/><ellipse cx="702" cy="163" rx="3.74" ry="2.2" fill="#5a3e1a" opacity="0.6" filter="url(#b1)"/><ellipse cx="822" cy="151" rx="3.06" ry="1.8" fill="#5a3e1a" opacity="0.6" filter="url(#b1)"/><ellipse cx="616" cy="160" rx="3.74" ry="2.2" fill="#5a3e1a" opacity="0.6" filter="url(#b1)"/><ellipse cx="600" cy="150" rx="3.4" ry="2" fill="#5a3e1a" opacity="0.6" filter="url(#b1)"/><ellipse cx="890" cy="166" rx="3.06" ry="1.8" fill="#5a3e1a" opacity="0.6" filter="url(#b1)"/><ellipse cx="915" cy="160" rx="3.4" ry="2" fill="#5a3e1a" opacity="0.6" filter="url(#b1)"/><path d="M749.9 142.0 C756.6 143.0 776.6 142.5 789.9 142.8 C803.3 143.2 816.6 143.7 829.9 144.1 C843.2 144.6 857.4 144.8 869.9 145.4 C882.4 146.0 899.0 147.9 904.9 147.7 C910.7 147.5 910.9 145.3 905.1 144.3 C899.3 143.2 882.6 142.3 870.1 141.6 C857.6 140.8 843.4 140.4 830.1 139.9 C816.7 139.3 803.4 138.7 790.1 138.2 C776.7 137.7 756.8 136.4 750.1 137.0 C743.4 137.6 743.3 141.0 749.9 142.0Z" fill="#5a3c18" opacity="0.5" filter="url(#b1)"/></g><path d="M926 158 C934 160 941 162 946 166 C942 170 936 172 929 172 Z" fill="#704218" opacity="0.85" filter="url(#b1)"/><ellipse cx="181" cy="146" rx="5" ry="2" fill="#2a2418" opacity="0.9"/><ellipse cx="172.5" cy="181.5" rx="5.2" ry="2.8" fill="#221c14" transform="rotate(15 172.5 181.5)"/><clipPath id="pelc"><path d="M503.0 151.0 C503.3 148.8 514.5 147.8 522.0 147.0 C529.5 146.2 539.2 146.0 548.0 146.0 C556.8 146.0 566.7 146.2 575.0 147.0 C583.3 147.8 593.2 148.5 598.0 151.0 C602.8 153.5 603.7 158.0 604.0 162.0 C604.3 166.0 602.3 170.3 600.0 175.0 C597.7 179.7 593.7 185.5 590.0 190.0 C586.3 194.5 581.3 199.3 578.0 202.0 C574.7 204.7 572.7 206.7 570.0 206.0 C567.3 205.3 565.3 201.7 562.0 198.0 C558.7 194.3 554.3 188.5 550.0 184.0 C545.7 179.5 541.0 175.0 536.0 171.0 C531.0 167.0 525.5 163.3 520.0 160.0 C514.5 156.7 502.7 153.2 503.0 151.0Z"/></clipPath><path d="M503.0 151.0 C503.3 148.8 514.5 147.8 522.0 147.0 C529.5 146.2 539.2 146.0 548.0 146.0 C556.8 146.0 566.7 146.2 575.0 147.0 C583.3 147.8 593.2 148.5 598.0 151.0 C602.8 153.5 603.7 158.0 604.0 162.0 C604.3 166.0 602.3 170.3 600.0 175.0 C597.7 179.7 593.7 185.5 590.0 190.0 C586.3 194.5 581.3 199.3 578.0 202.0 C574.7 204.7 572.7 206.7 570.0 206.0 C567.3 205.3 565.3 201.7 562.0 198.0 C558.7 194.3 554.3 188.5 550.0 184.0 C545.7 179.5 541.0 175.0 536.0 171.0 C531.0 167.0 525.5 163.3 520.0 160.0 C514.5 156.7 502.7 153.2 503.0 151.0Z" fill="url(#pelg)"/><g clip-path="url(#pelc)"><path d="M505.0 150.0 Q538.5 174.0 560.0 206.0" stroke="#8a6238" stroke-width="1.5" fill="none" opacity="0.5"/><path d="M512.3 150.0 Q543.8 172.1 563.4 202.2" stroke="#8a6238" stroke-width="1.5" fill="none" opacity="0.5"/><path d="M519.6 150.0 Q549.2 170.2 566.8 198.3" stroke="#8a6238" stroke-width="1.5" fill="none" opacity="0.5"/><path d="M526.9 150.0 Q554.5 168.2 570.2 194.5" stroke="#8a6238" stroke-width="1.5" fill="none" opacity="0.5"/><path d="M534.2 150.0 Q559.9 166.3 573.5 190.6" stroke="#8a6238" stroke-width="1.5" fill="none" opacity="0.5"/><path d="M541.5 150.0 Q565.2 164.4 576.9 186.8" stroke="#8a6238" stroke-width="1.5" fill="none" opacity="0.5"/><path d="M548.8 150.0 Q570.6 162.5 580.3 182.9" stroke="#8a6238" stroke-width="1.5" fill="none" opacity="0.5"/><path d="M556.2 150.0 Q575.9 160.5 583.7 179.1" stroke="#8a6238" stroke-width="1.5" fill="none" opacity="0.5"/><path d="M563.5 150.0 Q581.3 158.6 587.1 175.2" stroke="#8a6238" stroke-width="1.5" fill="none" opacity="0.5"/><path d="M570.8 150.0 Q586.6 156.7 590.5 171.4" stroke="#8a6238" stroke-width="1.5" fill="none" opacity="0.5"/><path d="M578.1 150.0 Q592.0 154.8 593.8 167.5" stroke="#8a6238" stroke-width="1.5" fill="none" opacity="0.5"/><path d="M585.4 150.0 Q597.3 152.8 597.2 163.7" stroke="#8a6238" stroke-width="1.5" fill="none" opacity="0.5"/><path d="M592.7 158.0 Q602.7 154.9 600.6 159.8" stroke="#8a6238" stroke-width="1.5" fill="none" opacity="0.5"/><path d="M600.0 158.0 Q608.0 153.0 604.0 156.0" stroke="#8a6238" stroke-width="1.5" fill="none" opacity="0.5"/><path d="M500 150 C530 152 560 155 600 152 L600 160 C560 162 530 160 505 158Z" fill="#a88a5c" opacity="0.35"/></g><path d="M136.7 158.5 C135.1 157.2 129.6 155.6 125.5 153.9 C121.5 152.2 116.6 150.1 112.3 148.3 C108.1 146.4 102.2 143.5 100.2 142.7 C98.1 141.9 97.9 142.1 99.8 143.3 C101.8 144.5 107.5 147.6 111.7 149.7 C115.8 151.9 120.5 154.2 124.5 156.1 C128.4 158.1 133.3 161.2 135.3 161.5 C137.3 161.9 138.3 159.7 136.7 158.5Z" fill="#bf6c30"/><path d="M153.1 152.9 C152.3 151.4 148.1 148.2 145.8 146.2 C143.6 144.1 141.6 142.0 139.5 140.4 C137.4 138.8 134.3 137.2 133.2 136.7 C132.1 136.2 131.9 136.5 132.8 137.3 C133.7 138.1 136.6 139.8 138.5 141.6 C140.4 143.3 142.1 145.6 144.2 147.8 C146.2 150.1 149.4 154.3 150.9 155.1 C152.4 156.0 154.0 154.4 153.1 152.9Z" fill="#bf6c30"/><path d="M133.5 174.4 C131.1 174.6 124.6 177.2 119.6 178.8 C114.7 180.4 109.1 182.6 103.8 184.2 C98.5 185.9 90.5 187.8 87.9 188.7 C85.3 189.5 85.4 189.8 88.1 189.3 C90.8 188.9 98.8 187.1 104.2 185.8 C109.6 184.4 115.3 182.6 120.4 181.2 C125.4 179.8 132.3 178.8 134.5 177.6 C136.7 176.5 136.0 174.2 133.5 174.4Z" fill="#bf6c30"/><path d="M143.9 183.8 C142.1 184.8 138.3 189.0 135.2 192.1 C132.1 195.2 128.9 199.0 125.5 202.4 C122.1 205.9 116.5 210.9 114.8 212.7 C113.1 214.5 113.3 214.8 115.2 213.3 C117.2 211.7 122.9 206.8 126.5 203.6 C130.1 200.3 133.6 196.8 136.8 193.9 C140.1 191.0 144.9 187.9 146.1 186.2 C147.3 184.5 145.7 182.8 143.9 183.8Z" fill="#bf6c30"/><path d="M150.7 187.4 C150.8 189.0 154.0 193.4 153.8 195.9 C153.7 198.3 151.8 200.8 149.5 202.2 C147.2 203.6 143.0 204.1 140.0 204.3 C136.9 204.5 132.6 203.5 131.0 203.6 C129.5 203.6 129.5 204.1 131.0 204.4 C132.4 204.8 136.8 205.8 140.0 205.7 C143.3 205.6 147.8 205.4 150.5 203.8 C153.2 202.2 155.7 199.0 156.2 196.1 C156.6 193.3 154.2 188.0 153.3 186.6 C152.4 185.1 150.6 185.9 150.7 187.4Z" fill="#c47c3c"/><path d="M149.6 154.9 C150.6 154.7 152.6 152.7 154.4 151.8 C156.1 150.9 159.3 150.1 160.2 149.6 C161.1 149.0 160.9 148.3 159.8 148.4 C158.7 148.5 155.5 149.5 153.6 150.2 C151.8 151.0 149.1 152.3 148.4 153.1 C147.8 153.8 148.6 155.2 149.6 154.9Z" fill="#e6d4a0"/></g>
<text transform="translate(2.4 30.3) scale(1 1.12)" class="pl">A</text>
<text transform="translate(8 389.3) scale(1 1.1)" class="pl">B</text>

<defs><clipPath id="pc"><rect x="193" y="480" width="715" height="583"/></clipPath></defs>
<g clip-path="url(#pc)">
<rect x="219.85" y="470" width="700" height="571.5" fill="#d3d3d3" stroke="#000" stroke-width="1.6"/>
<path d="M227.21 1040.2V478M232.11 1040.2V478M237.02 1040.2V557.59M241.92 1040.2V756.79M246.83 1040.2V876.63M251.73 1040.2V932.53M256.64 1040.2V959.01M261.54 1040.2V970.48M266.44 1040.2V972.38M271.35 1040.2V972.38M276.25 1040.2V967.03M281.16 1040.2V955.09M286.06 1040.2V935.24M290.97 1040.2V909.73M295.87 1040.2V879.78M300.78 1040.2V846.72M305.68 1040.2V811.95M310.59 1040.2V777.41M315.49 1040.2V747.57M320.4 1040.2V724.63M325.3 1040.2V709.81M330.21 1040.2V705.42M335.11 1040.2V714.4M340.02 1040.2V728.83M344.92 1040.2V746.7M349.82 1040.2V765.85M354.73 1040.2V784.12M359.63 1040.2V799.55M364.54 1040.2V810.53M369.44 1040.2V815.81M374.35 1040.2V815.81M379.25 1040.2V814.64M384.16 1040.2V806.76M389.06 1040.2V792.37M393.97 1040.2V772.14M398.87 1040.2V747.11M403.78 1040.2V718.62M408.68 1040.2V688.24M413.59 1040.2V657.63M418.49 1040.2V628.46M423.4 1040.2V602.29M428.3 1040.2V580.48M433.2 1040.2V564.13M438.11 1040.2V553.99M443.01 1040.2V553.68M447.92 1040.2V563.33M452.82 1040.2V578.87M457.73 1040.2V599.55M462.63 1040.2V624.45M467.54 1040.2V652.56M472.44 1040.2V682.85M477.35 1040.2V714.32M482.25 1040.2V746.06M487.16 1040.2V777.28M492.06 1040.2V807.32M496.97 1040.2V835.65M501.87 1040.2V861.91M506.77 1040.2V885.87M511.68 1040.2V907.42M516.58 1040.2V926.54M521.49 1040.2V943.31M526.39 1040.2V957.87M531.3 1040.2V970.38M536.2 1040.2V981.04M541.11 1040.2V990.05M546.01 1040.2V997.61M550.92 1040.2V1003.89M555.82 1040.2V1009.05M560.73 1040.2V1013.26M565.63 1040.2V1016.64M570.54 1040.2V1019.32M575.44 1040.2V1021.39M580.35 1040.2V1022.95M585.25 1040.2V1024.08M590.15 1040.2V1024.85M595.06 1040.2V1025.33M599.96 1040.2V1025.56M604.87 1040.2V1025.61M609.77 1040.2V1025.61M614.68 1040.2V1025.52M619.58 1040.2V1025.32M624.49 1040.2V1025.06M629.39 1040.2V1024.77M634.3 1040.2V1024.49M639.2 1040.2V1024.22M644.11 1040.2V1024.01M649.01 1040.2V1025.78M653.92 1040.2V1025.79M658.82 1040.2V1025.9M663.73 1040.2V1026.11M668.63 1040.2V1026.4M673.53 1040.2V1026.79M678.44 1040.2V1027.26M683.34 1040.2V1027.81M688.25 1040.2V1028.41M693.15 1040.2V1029.07M698.06 1040.2V1029.76M702.96 1040.2V1030.47M707.87 1040.2V1031.19M712.77 1040.2V1031.9M717.68 1040.2V1032.6M722.58 1040.2V1033.26M727.49 1040.2V1033.88M732.39 1040.2V1034.45M737.3 1040.2V1034.98M742.2 1040.2V1035.45M747.11 1040.2V1035.7M752.01 1040.2V1035.7M756.91 1040.2V1035.7M761.82 1040.2V1035.7M766.72 1040.2V1035.7M771.63 1040.2V1035.7M776.53 1040.2V1035.7M781.44 1040.2V1035.7M786.34 1040.2V1035.7M791.25 1040.2V1035.7M796.15 1040.2V1035.7M801.06 1040.2V1035.7M805.96 1040.2V1035.7M810.87 1040.2V1035.7M815.77 1040.2V1035.7M820.68 1040.2V1035.7M825.58 1040.2V1035.7M830.49 1040.2V1035.7M835.39 1040.2V1035.7M840.29 1040.2V1035.7M845.2 1040.2V1035.7M850.1 1040.2V1035.7M855.01 1040.2V1035.7M859.91 1040.2V1035.7M864.82 1040.2V1035.7M869.72 1040.2V1035.7M874.63 1040.2V1035.7M879.53 1040.2V1035.7M884.44 1040.2V1035.7M889.34 1040.2V1035.7M894.25 1040.2V1035.7M899.15 1040.2V1035.7M904.06 1040.2V1035.7" stroke="#ded7d2" stroke-width="1.6" fill="none"/>
<path d="M224.75 1041.5V478M229.66 1041.5V478M234.56 1041.5V478M239.47 1041.5V556.59M244.37 1041.5V755.79M249.28 1041.5V875.63M254.18 1041.5V931.53M259.09 1041.5V958.01M263.99 1041.5V969.48M268.9 1041.5V971.38M273.8 1041.5V966.03M278.71 1041.5V954.09M283.61 1041.5V934.24M288.52 1041.5V908.73M293.42 1041.5V878.78M298.33 1041.5V845.72M303.23 1041.5V810.95M308.13 1041.5V776.41M313.04 1041.5V746.57M317.94 1041.5V723.63M322.85 1041.5V708.81M327.75 1041.5V702.53M332.66 1041.5V704.42M337.56 1041.5V713.4M342.47 1041.5V727.83M347.37 1041.5V745.7M352.28 1041.5V764.85M357.18 1041.5V783.12M362.09 1041.5V798.55M366.99 1041.5V809.53M371.9 1041.5V814.81M376.8 1041.5V813.64M381.71 1041.5V805.76M386.61 1041.5V791.37M391.51 1041.5V771.14M396.42 1041.5V746.11M401.32 1041.5V717.62M406.23 1041.5V687.24M411.13 1041.5V656.63M416.04 1041.5V627.46M420.94 1041.5V601.29M425.85 1041.5V579.48M430.75 1041.5V563.13M435.66 1041.5V552.99M440.56 1041.5V549.49M445.47 1041.5V552.68M450.37 1041.5V562.33M455.28 1041.5V577.87M460.18 1041.5V598.55M465.09 1041.5V623.45M469.99 1041.5V651.56M474.89 1041.5V681.85M479.8 1041.5V713.32M484.7 1041.5V745.06M489.61 1041.5V776.28M494.51 1041.5V806.32M499.42 1041.5V834.65M504.32 1041.5V860.91M509.23 1041.5V884.87M514.13 1041.5V906.42M519.04 1041.5V925.54M523.94 1041.5V942.31M528.85 1041.5V956.87M533.75 1041.5V969.38M538.66 1041.5V980.04M543.56 1041.5V989.05M548.46 1041.5V996.61M553.37 1041.5V1002.89M558.27 1041.5V1008.05M563.18 1041.5V1012.26M568.08 1041.5V1015.64M572.99 1041.5V1018.32M577.89 1041.5V1020.39M582.8 1041.5V1021.95M587.7 1041.5V1023.08M592.61 1041.5V1023.85M597.51 1041.5V1024.33M602.42 1041.5V1024.56M607.32 1041.5V1024.61M612.23 1041.5V1024.52M617.13 1041.5V1024.32M622.04 1041.5V1024.06M626.94 1041.5V1023.77M631.84 1041.5V1023.49M636.75 1041.5V1023.22M641.65 1041.5V1023.01M646.56 1041.5V1022.85M651.46 1041.5V1024.78M656.37 1041.5V1024.79M661.27 1041.5V1024.9M666.18 1041.5V1025.11M671.08 1041.5V1025.4M675.99 1041.5V1025.79M680.89 1041.5V1026.26M685.8 1041.5V1026.81M690.7 1041.5V1027.41M695.61 1041.5V1028.07M700.51 1041.5V1028.76M705.42 1041.5V1029.47M710.32 1041.5V1030.19M715.22 1041.5V1030.9M720.13 1041.5V1031.6M725.03 1041.5V1032.26M729.94 1041.5V1032.88M734.84 1041.5V1033.45M739.75 1041.5V1033.98M744.65 1041.5V1034.45M749.56 1041.5V1034.7M754.46 1041.5V1034.7M759.37 1041.5V1034.7M764.27 1041.5V1034.7M769.18 1041.5V1034.7M774.08 1041.5V1034.7M778.99 1041.5V1034.7M783.89 1041.5V1034.7M788.8 1041.5V1034.7M793.7 1041.5V1034.7M798.6 1041.5V1034.7M803.51 1041.5V1034.7M808.41 1041.5V1034.7M813.32 1041.5V1034.7M818.22 1041.5V1034.7M823.13 1041.5V1034.7M828.03 1041.5V1034.7M832.94 1041.5V1034.7M837.84 1041.5V1034.7M842.75 1041.5V1034.7M847.65 1041.5V1034.7M852.56 1041.5V1034.7M857.46 1041.5V1034.7M862.37 1041.5V1034.7M867.27 1041.5V1034.7M872.18 1041.5V1034.7M877.08 1041.5V1034.7M881.98 1041.5V1034.7M886.89 1041.5V1034.7M891.79 1041.5V1034.7M896.7 1041.5V1034.7M901.6 1041.5V1034.7M906.51 1041.5V1034.7" stroke="#5fb7ea" stroke-width="2.8" fill="none"/>
<path d="M224.75 1041.5 L225.98 1041.5 L227.21 1041.5 L228.43 1041.49 L229.66 1041.49 L230.89 1041.49 L232.11 1041.48 L233.34 1041.47 L234.56 1041.45 L235.79 1041.43 L237.02 1041.41 L238.24 1041.37 L239.47 1041.32 L240.69 1041.26 L241.92 1041.18 L243.15 1041.08 L244.37 1040.95 L245.6 1040.79 L246.83 1040.59 L248.05 1040.35 L249.28 1040.05 L250.5 1039.69 L251.73 1039.26 L252.96 1038.74 L254.18 1038.13 L255.41 1037.42 L256.64 1036.58 L257.86 1035.61 L259.09 1034.49 L260.31 1033.2 L261.54 1031.74 L262.77 1030.08 L263.99 1028.2 L265.22 1026.1 L266.44 1023.75 L267.67 1021.14 L268.9 1018.26 L270.12 1015.09 L271.35 1011.62 L272.58 1007.83 L273.8 1003.72 L275.03 999.28 L276.25 994.51 L277.48 989.39 L278.71 983.93 L279.93 978.13 L281.16 971.99 L282.38 965.52 L283.61 958.72 L284.84 951.61 L286.06 944.21 L287.29 936.52 L288.52 928.58 L289.74 920.39 L290.97 912 L292.19 903.41 L293.42 894.67 L294.65 885.8 L295.87 876.84 L297.1 867.82 L298.33 858.78 L299.55 849.75 L300.78 840.77 L302 831.88 L303.23 823.11 L304.46 814.51 L305.68 806.1 L306.91 797.93 L308.13 790.02 L309.36 782.41 L310.59 775.14 L311.81 768.23 L313.04 761.7 L314.27 755.58 L315.49 749.9 L316.72 744.68 L317.94 739.92 L319.17 735.65 L320.4 731.87 L321.62 728.6 L322.85 725.83 L324.07 723.57 L325.3 721.81 L326.53 720.56 L327.75 719.81 L328.98 719.54 L330.21 719.74 L331.43 720.41 L332.66 721.51 L333.88 723.03 L335.11 724.95 L336.34 727.24 L337.56 729.88 L338.79 732.84 L340.02 736.1 L341.24 739.61 L342.47 743.36 L343.69 747.3 L344.92 751.42 L346.15 755.66 L347.37 760.01 L348.6 764.43 L349.82 768.88 L351.05 773.34 L352.28 777.76 L353.5 782.12 L354.73 786.4 L355.96 790.54 L357.18 794.54 L358.41 798.36 L359.63 801.97 L360.86 805.35 L362.09 808.47 L363.31 811.32 L364.54 813.87 L365.76 816.1 L366.99 817.99 L368.22 819.53 L369.44 820.7 L370.67 821.5 L371.9 821.91 L373.12 821.92 L374.35 821.53 L375.57 820.73 L376.8 819.51 L378.03 817.89 L379.25 815.85 L380.48 813.41 L381.71 810.56 L382.93 807.31 L384.16 803.67 L385.38 799.65 L386.61 795.26 L387.84 790.51 L389.06 785.42 L390.29 780.01 L391.51 774.28 L392.74 768.14 L393.97 761.75 L395.19 755.12 L396.42 748.27 L397.65 741.23 L398.87 734.01 L400.1 726.64 L401.32 719.15 L402.55 711.56 L403.78 703.88 L405 696.15 L406.23 688.39 L407.45 680.63 L408.68 672.89 L409.91 665.2 L411.13 657.57 L412.36 650.04 L413.59 642.63 L414.81 635.36 L416.04 628.26 L417.26 621.49 L418.49 614.93 L419.72 608.61 L420.94 602.53 L422.17 596.74 L423.4 591.23 L424.62 586.03 L425.85 581.17 L427.07 576.64 L428.3 572.47 L429.53 568.67 L430.75 565.25 L431.98 562.22 L433.2 559.59 L434.43 557.37 L435.66 555.56 L436.88 554.16 L438.11 553.18 L439.34 552.63 L440.56 552.5 L441.79 552.7 L443.01 553.32 L444.24 554.35 L445.47 555.8 L446.69 557.65 L447.92 559.89 L449.14 562.53 L450.37 565.55 L451.6 568.93 L452.82 572.68 L454.05 576.77 L455.28 581.2 L456.5 585.95 L457.73 591 L458.95 596.36 L460.18 601.99 L461.41 607.88 L462.63 614.03 L463.86 620.41 L465.09 627 L466.31 633.85 L467.54 640.88 L468.76 648.08 L469.99 655.43 L471.22 662.92 L472.44 670.53 L473.67 678.25 L474.89 686.05 L476.12 693.93 L477.35 701.87 L478.57 709.85 L479.8 717.86 L481.03 725.89 L482.25 733.93 L483.48 741.95 L484.7 749.96 L485.93 757.93 L487.16 765.86 L488.38 773.74 L489.61 781.55 L490.83 789.36 L492.06 797.09 L493.29 804.73 L494.51 812.27 L495.74 819.71 L496.97 827.03 L498.19 834.24 L499.42 841.32 L500.64 848.28 L501.87 855.1 L503.1 861.79 L504.32 868.34 L505.55 874.74 L506.77 881 L508 887.11 L509.23 893.08 L510.45 898.89 L511.68 904.56 L512.91 910.07 L514.13 915.43 L515.36 920.62 L516.58 925.66 L517.81 930.55 L519.04 935.29 L520.26 939.88 L521.49 944.33 L522.72 948.64 L523.94 952.81 L525.17 956.84 L526.39 960.73 L527.62 964.49 L528.85 968.11 L530.07 971.49 L531.3 974.73 L532.52 977.86 L533.75 980.86 L534.98 983.75 L536.2 986.52 L537.43 989.18 L538.66 991.74 L539.88 994.18 L541.11 996.53 L542.33 998.78 L543.56 1000.93 L544.79 1003.02 L546.01 1005.03 L547.24 1006.95 L548.46 1008.78 L549.69 1010.53 L550.92 1012.21 L552.14 1013.8 L553.37 1015.33 L554.6 1016.78 L555.82 1018.16 L557.05 1019.48 L558.27 1020.74 L559.5 1021.93 L560.73 1023.06 L561.95 1024.14 L563.18 1025.16 L564.41 1026.13 L565.63 1027.04 L566.86 1027.9 L568.08 1028.7 L569.31 1029.46 L570.54 1030.17 L571.76 1030.84 L572.99 1031.47 L574.21 1032.06 L575.44 1032.62 L576.67 1033.15 L577.89 1033.64 L579.12 1034.11 L580.35 1034.54 L581.57 1034.95 L582.8 1035.34 L584.02 1035.71 L585.25 1036.05 L586.48 1036.37 L587.7 1036.67 L588.93 1036.96 L590.15 1037.23 L591.38 1037.48 L592.61 1037.72 L593.83 1037.94 L595.06 1038.15 L596.29 1038.35 L597.51 1038.54 L598.74 1038.71 L599.96 1038.88 L601.19 1039.03 L602.42 1039.18 L603.64 1039.32 L604.87 1039.45 L606.1 1039.57 L607.32 1039.68 L608.55 1039.79 L609.77 1039.89 L611 1039.99 L612.23 1040.07 L613.45 1040.16 L614.68 1040.24 L615.9 1040.31 L617.13 1040.38 L618.36 1040.45 L619.58 1040.51 L620.81 1040.57 L622.04 1040.62 L623.26 1040.68 L624.49 1040.73 L625.71 1040.77 L626.94 1040.81 L628.17 1040.85 L629.39 1040.89 L630.62 1040.93 L631.84 1040.96 L633.07 1040.99 L634.3 1041.02 L635.52 1041.05 L636.75 1041.08 L637.98 1041.1 L639.2 1041.13 L640.43 1041.15 L641.65 1041.17 L642.88 1041.19 L644.11 1041.21 L645.33 1041.23 L646.56 1041.24 L647.79 1041.26 L649.01 1041.27 L650.24 1041.28 L651.46 1041.3 L652.69 1041.31 L653.92 1041.32 L655.14 1041.33 L656.37 1041.34 L657.59 1041.35 L658.82 1041.36 L660.05 1041.37 L661.27 1041.38 L662.5 1041.38 L663.73 1041.39 L664.95 1041.4 L666.18 1041.4 L667.4 1041.41 L668.63 1041.41 L669.86 1041.42 L671.08 1041.42 L672.31 1041.43 L673.53 1041.43 L674.76 1041.44 L675.99 1041.44 L677.21 1041.44 L678.44 1041.45 L679.67 1041.45 L680.89 1041.45 L682.12 1041.46 L683.34 1041.46 L684.57 1041.46 L685.8 1041.46 L687.02 1041.47 L688.25 1041.47 L689.48 1041.47 L690.7 1041.47 L691.93 1041.47 L693.15 1041.47 L694.38 1041.48 L695.61 1041.48 L696.83 1041.48 L698.06 1041.48 L699.28 1041.48 L700.51 1041.48 L701.74 1041.48 L702.96 1041.48 L704.19 1041.49 L705.42 1041.49 L706.64 1041.49 L707.87 1041.49 L709.09 1041.49 L710.32 1041.49 L711.55 1041.49 L712.77 1041.49 L714 1041.49 L715.22 1041.49 L716.45 1041.49 L717.68 1041.49 L718.9 1041.49 L720.13 1041.49 L721.36 1041.49 L722.58 1041.49 L723.81 1041.49 L725.03 1041.49 L726.26 1041.5 L727.49 1041.5 L728.71 1041.5 L729.94 1041.5 L731.16 1041.5 L732.39 1041.5 L733.62 1041.5 L734.84 1041.5 L736.07 1041.5 L737.3 1041.5 L738.52 1041.5 L739.75 1041.5 L740.97 1041.5 L742.2 1041.5 L743.43 1041.5 L744.65 1041.5 L745.88 1041.5 L747.11 1041.5 L748.33 1041.5 L749.56 1041.5 L750.78 1041.5 L752.01 1041.5 L753.24 1041.5 L754.46 1041.5 L755.69 1041.5 L756.91 1041.5 L758.14 1041.5 L759.37 1041.5 L760.59 1041.5 L761.82 1041.5 L763.05 1041.5 L764.27 1041.5 L765.5 1041.5 L766.72 1041.5 L767.95 1041.5 L769.18 1041.5 L770.4 1041.5 L771.63 1041.5 L772.85 1041.5 L774.08 1041.5 L775.31 1041.5 L776.53 1041.5 L777.76 1041.5 L778.99 1041.5 L780.21 1041.5 L781.44 1041.5 L782.66 1041.5 L783.89 1041.5 L785.12 1041.5 L786.34 1041.5 L787.57 1041.5 L788.8 1041.5 L790.02 1041.5 L791.25 1041.5 L792.47 1041.5 L793.7 1041.5 L794.93 1041.5 L796.15 1041.5 L797.38 1041.5 L798.6 1041.5 L799.83 1041.5 L801.06 1041.5 L802.28 1041.5 L803.51 1041.5 L804.74 1041.5 L805.96 1041.5 L807.19 1041.5 L808.41 1041.5 L809.64 1041.5 L810.87 1041.5 L812.09 1041.5 L813.32 1041.5 L814.54 1041.5 L815.77 1041.5 L817 1041.5 L818.22 1041.5 L819.45 1041.5 L820.68 1041.5 L821.9 1041.5 L823.13 1041.5 L824.35 1041.5 L825.58 1041.5 L826.81 1041.5 L828.03 1041.5 L829.26 1041.5 L830.49 1041.5 L831.71 1041.5 L832.94 1041.5 L834.16 1041.5 L835.39 1041.5 L836.62 1041.5 L837.84 1041.5 L839.07 1041.5 L840.29 1041.5 L841.52 1041.5 L842.75 1041.5 L843.97 1041.5 L845.2 1041.5 L846.43 1041.5 L847.65 1041.5 L848.88 1041.5 L850.1 1041.5 L851.33 1041.5 L852.56 1041.5 L853.78 1041.5 L855.01 1041.5 L856.23 1041.5 L857.46 1041.5 L858.69 1041.5 L859.91 1041.5 L861.14 1041.5 L862.37 1041.5 L863.59 1041.5 L864.82 1041.5 L866.04 1041.5 L867.27 1041.5 L868.5 1041.5 L869.72 1041.5 L870.95 1041.5 L872.18 1041.5 L873.4 1041.5 L874.63 1041.5 L875.85 1041.5 L877.08 1041.5 L878.31 1041.5 L879.53 1041.5 L880.76 1041.5 L881.98 1041.5 L883.21 1041.5 L884.44 1041.5 L885.66 1041.5 L886.89 1041.5 L888.12 1041.5 L889.34 1041.5 L890.57 1041.5 L891.79 1041.5 L893.02 1041.5 L894.25 1041.5 L895.47 1041.5 L896.7 1041.5 L897.92 1041.5 L899.15 1041.5 L900.38 1041.5 L901.6 1041.5 L902.83 1041.5 L904.06 1041.5 L905.28 1041.5 L906.51 1041.5 L907.73 1041.5 L908.96 1041.5" stroke="#ebef3f" stroke-width="4.3" fill="none" stroke-linejoin="round"/>
<path d="M224.75 1041.5 L225.98 1041.5 L227.21 1041.5 L228.43 1041.49 L229.66 1041.49 L230.89 1041.48 L232.11 1041.48 L233.34 1041.47 L234.56 1041.45 L235.79 1041.43 L237.02 1041.4 L238.24 1041.36 L239.47 1041.31 L240.69 1041.25 L241.92 1041.16 L243.15 1041.06 L244.37 1040.92 L245.6 1040.75 L246.83 1040.54 L248.05 1040.29 L249.28 1039.97 L250.5 1039.59 L251.73 1039.14 L252.96 1038.59 L254.18 1037.95 L255.41 1037.2 L256.64 1036.31 L257.86 1035.29 L259.09 1034.11 L260.31 1032.75 L261.54 1031.21 L262.77 1029.46 L263.99 1027.48 L265.22 1025.26 L266.44 1022.79 L267.67 1020.04 L268.9 1017 L270.12 1013.66 L271.35 1010 L272.58 1006.01 L273.8 1001.67 L275.03 997 L276.25 991.96 L277.48 986.57 L278.71 980.81 L279.93 974.7 L281.16 968.22 L282.38 961.4 L283.61 954.24 L284.84 946.75 L286.06 938.94 L287.29 930.84 L288.52 922.46 L289.74 913.83 L290.97 904.98 L292.19 895.93 L293.42 886.72 L294.65 877.37 L295.87 867.92 L297.1 858.42 L298.33 848.89 L299.55 839.37 L300.78 829.9 L302 820.53 L303.23 811.29 L304.46 802.22 L305.68 793.36 L306.91 784.74 L308.13 776.41 L309.36 768.39 L310.59 760.73 L311.81 753.44 L313.04 746.57 L314.27 740.12 L315.49 734.14 L316.72 728.64 L317.94 723.63 L319.17 719.13 L320.4 715.16 L321.62 711.72 L322.85 708.81 L324.07 706.44 L325.3 704.61 L326.53 703.31 L327.75 702.53 L328.98 702.27 L330.21 702.51 L331.43 703.23 L332.66 704.42 L333.88 706.06 L335.11 708.11 L336.34 710.57 L337.56 713.4 L338.79 716.57 L340.02 720.05 L341.24 723.82 L342.47 727.83 L343.69 732.06 L344.92 736.47 L346.15 741.03 L347.37 745.7 L348.6 750.45 L349.82 755.25 L351.05 760.06 L352.28 764.85 L353.5 769.58 L354.73 774.22 L355.96 778.74 L357.18 783.12 L358.41 787.31 L359.63 791.3 L360.86 795.06 L362.09 798.55 L363.31 801.77 L364.54 804.69 L365.76 807.28 L366.99 809.53 L368.22 811.42 L369.44 812.94 L370.67 814.07 L371.9 814.81 L373.12 815.14 L374.35 815.06 L375.57 814.56 L376.8 813.64 L378.03 812.3 L379.25 810.54 L380.48 808.35 L381.71 805.76 L382.93 802.75 L384.16 799.35 L385.38 795.55 L386.61 791.37 L387.84 786.83 L389.06 781.93 L390.29 776.69 L391.51 771.14 L392.74 765.28 L393.97 759.15 L395.19 752.75 L396.42 746.11 L397.65 739.25 L398.87 732.2 L400.1 724.98 L401.32 717.62 L402.55 710.14 L403.78 702.56 L405 694.92 L406.23 687.24 L407.45 679.54 L408.68 671.86 L409.91 664.21 L411.13 656.63 L412.36 649.14 L413.59 641.77 L414.81 634.53 L416.04 627.46 L417.26 620.58 L418.49 613.91 L419.72 607.48 L420.94 601.29 L422.17 595.39 L423.4 589.77 L424.62 584.46 L425.85 579.49 L427.07 574.85 L428.3 570.57 L429.53 566.66 L430.75 563.13 L431.98 559.99 L433.2 557.25 L434.43 554.92 L435.66 553 L436.88 551.49 L438.11 550.4 L439.34 549.74 L440.56 549.5 L441.79 549.67 L443.01 550.27 L444.24 551.28 L445.47 552.7 L446.69 554.52 L447.92 556.74 L449.14 559.35 L450.37 562.35 L451.6 565.71 L452.82 569.43 L454.05 573.49 L455.28 577.9 L456.5 582.62 L457.73 587.65 L458.95 592.98 L460.18 598.59 L461.41 604.46 L462.63 610.58 L463.86 616.93 L465.09 623.5 L466.31 630.27 L467.54 637.23 L468.76 644.36 L469.99 651.63 L471.22 659.05 L472.44 666.58 L473.67 674.22 L474.89 681.95 L476.12 689.75 L477.35 697.62 L478.57 705.52 L479.8 713.46 L481.03 721.42 L482.25 729.38 L483.48 737.33 L484.7 745.26 L485.93 753.16 L487.16 761.01 L488.38 768.81 L489.61 776.55 L490.83 784.21 L492.06 791.79 L493.29 799.28 L494.51 806.67 L495.74 813.96 L496.97 821.13 L498.19 828.19 L499.42 835.12 L500.64 841.93 L501.87 848.6 L503.1 855.14 L504.32 861.54 L505.55 867.79 L506.77 873.9 L508 879.86 L509.23 885.68 L510.45 891.34 L511.68 896.86 L512.91 902.22 L514.13 907.43 L515.36 912.5 L516.58 917.41 L517.81 922.17 L519.04 926.79 L520.26 931.26 L521.49 935.58 L522.72 939.77 L523.94 943.81 L525.17 947.71 L526.39 951.48 L527.62 955.11 L528.85 958.61 L530.07 961.99 L531.3 965.23 L532.52 968.36 L533.75 971.36 L534.98 974.25 L536.2 977.02 L537.43 979.68 L538.66 982.24 L539.88 984.68 L541.11 987.03 L542.33 989.28 L543.56 991.43 L544.79 993.49 L546.01 995.46 L547.24 997.34 L548.46 999.13 L549.69 1000.85 L550.92 1002.48 L552.14 1004.04 L553.37 1005.53 L554.6 1006.94 L555.82 1008.29 L557.05 1009.57 L558.27 1010.79 L559.5 1011.94 L560.73 1013.04 L561.95 1014.08 L563.18 1015.06 L564.41 1016 L565.63 1016.88 L566.86 1017.71 L568.08 1018.5 L569.31 1019.24 L570.54 1019.94 L571.76 1020.59 L572.99 1021.21 L574.21 1021.79 L575.44 1022.33 L576.67 1022.84 L577.89 1023.31 L579.12 1023.75 L580.35 1024.16 L581.57 1024.54 L582.8 1024.89 L584.02 1025.22 L585.25 1025.52 L586.48 1025.79 L587.7 1026.04 L588.93 1026.27 L590.15 1026.47 L591.38 1026.66 L592.61 1026.82 L593.83 1026.97 L595.06 1027.1 L596.29 1027.21 L597.51 1027.31 L598.74 1027.39 L599.96 1027.45 L601.19 1027.51 L602.42 1027.55 L603.64 1027.58 L604.87 1027.59 L606.1 1027.6 L607.32 1027.6 L608.55 1027.59 L609.77 1027.57 L611 1027.54 L612.23 1027.51 L613.45 1027.47 L614.68 1027.42 L615.9 1027.37 L617.13 1027.32 L618.36 1027.26 L619.58 1027.19 L620.81 1027.13 L622.04 1027.06 L623.26 1026.99 L624.49 1026.92 L625.71 1026.84 L626.94 1026.77 L628.17 1026.7 L629.39 1026.63 L630.62 1026.55 L631.84 1026.48 L633.07 1026.41 L634.3 1026.35 L635.52 1026.28 L636.75 1026.22 L637.98 1026.16 L639.2 1026.11 L640.43 1026.05 L641.65 1026 L642.88 1025.96 L644.11 1025.92 L645.33 1025.88 L646.56 1025.85 L647.79 1025.83 L649.01 1025.81 L650.24 1025.79 L651.46 1025.78 L652.69 1025.78 L653.92 1025.78 L655.14 1025.78 L656.37 1025.79 L657.59 1025.81 L658.82 1025.84 L660.05 1025.87 L661.27 1025.9 L662.5 1025.94 L663.73 1025.99 L664.95 1026.05 L666.18 1026.11 L667.4 1026.17 L668.63 1026.24 L669.86 1026.32 L671.08 1026.4 L672.31 1026.49 L673.53 1026.59 L674.76 1026.69 L675.99 1026.79 L677.21 1026.9 L678.44 1027.02 L679.67 1027.14 L680.89 1027.26 L682.12 1027.39 L683.34 1027.53 L684.57 1027.67 L685.8 1027.81 L687.02 1027.95 L688.25 1028.1 L689.48 1028.26 L690.7 1028.41 L691.93 1028.57 L693.15 1028.74 L694.38 1028.9 L695.61 1029.07 L696.83 1029.24 L698.06 1029.41 L699.28 1029.59 L700.51 1029.76 L701.74 1029.94 L702.96 1030.12 L704.19 1030.29 L705.42 1030.47 L706.64 1030.65 L707.87 1030.83 L709.09 1031.01 L710.32 1031.19 L711.55 1031.37 L712.77 1031.55 L714 1031.73 L715.22 1031.9 L716.45 1032.08 L717.68 1032.25 L718.9 1032.43 L720.13 1032.6 L721.36 1032.76 L722.58 1032.93 L723.81 1033.1 L725.03 1033.26 L726.26 1033.42 L727.49 1033.57 L728.71 1033.73 L729.94 1033.88 L731.16 1034.03 L732.39 1034.17 L733.62 1034.31 L734.84 1034.45 L736.07 1034.59 L737.3 1034.72 L738.52 1034.85 L739.75 1034.98 L740.97 1035.1 L742.2 1035.22 L743.43 1035.34 L744.65 1035.45 L745.88 1035.56 L747.11 1035.67 L748.33 1035.77 L749.56 1035.88 L750.78 1035.98 L752.01 1036.08 L753.24 1036.17 L754.46 1036.26 L755.69 1036.35 L756.91 1036.44 L758.14 1036.53 L759.37 1036.62 L760.59 1036.7 L761.82 1036.78 L763.05 1036.86 L764.27 1036.94 L765.5 1037.02 L766.72 1037.1 L767.95 1037.18 L769.18 1037.26 L770.4 1037.34 L771.63 1037.41 L772.85 1037.49 L774.08 1037.56 L775.31 1037.64 L776.53 1037.72 L777.76 1037.79 L778.99 1037.87 L780.21 1037.95 L781.44 1038.02 L782.66 1038.1 L783.89 1038.18 L785.12 1038.26 L786.34 1038.34 L787.57 1038.41 L788.8 1038.49 L790.02 1038.57 L791.25 1038.65 L792.47 1038.73 L793.7 1038.81 L794.93 1038.89 L796.15 1038.97 L797.38 1039.05 L798.6 1039.13 L799.83 1039.21 L801.06 1039.28 L802.28 1039.36 L803.51 1039.44 L804.74 1039.51 L805.96 1039.59 L807.19 1039.66 L808.41 1039.74 L809.64 1039.81 L810.87 1039.88 L812.09 1039.95 L813.32 1040.02 L814.54 1040.08 L815.77 1040.15 L817 1040.21 L818.22 1040.27 L819.45 1040.33 L820.68 1040.39 L821.9 1040.45 L823.13 1040.5 L824.35 1040.56 L825.58 1040.61 L826.81 1040.66 L828.03 1040.7 L829.26 1040.75 L830.49 1040.79 L831.71 1040.83 L832.94 1040.87 L834.16 1040.91 L835.39 1040.95 L836.62 1040.98 L837.84 1041.02 L839.07 1041.05 L840.29 1041.08 L841.52 1041.11 L842.75 1041.13 L843.97 1041.16 L845.2 1041.18 L846.43 1041.2 L847.65 1041.22 L848.88 1041.24 L850.1 1041.26 L851.33 1041.28 L852.56 1041.3 L853.78 1041.31 L855.01 1041.32 L856.23 1041.34 L857.46 1041.35 L858.69 1041.36 L859.91 1041.37 L861.14 1041.38 L862.37 1041.39 L863.59 1041.4 L864.82 1041.41 L866.04 1041.41 L867.27 1041.42 L868.5 1041.43 L869.72 1041.43 L870.95 1041.44 L872.18 1041.44 L873.4 1041.45 L874.63 1041.45 L875.85 1041.46 L877.08 1041.46 L878.31 1041.46 L879.53 1041.46 L880.76 1041.47 L881.98 1041.47 L883.21 1041.47 L884.44 1041.47 L885.66 1041.48 L886.89 1041.48 L888.12 1041.48 L889.34 1041.48 L890.57 1041.48 L891.79 1041.48 L893.02 1041.49 L894.25 1041.49 L895.47 1041.49 L896.7 1041.49 L897.92 1041.49 L899.15 1041.49 L900.38 1041.49 L901.6 1041.49 L902.83 1041.49 L904.06 1041.49 L905.28 1041.49 L906.51 1041.49 L907.73 1041.49 L908.96 1041.49" stroke="#000" stroke-width="4.3" fill="none" stroke-linejoin="round" stroke-linecap="round"/>
<path d="M236.04 335.84 L236.53 390.81 L237.02 441.5 L237.51 468.47 L238 492.93 L238.49 515.1 L238.98 536.37 L239.47 556.78 L239.96 576.37 L240.45 595.17 L240.94 613.21 L241.43 630.52 L241.92 648.04 L242.41 672.58 L242.9 695.59 L243.39 717.17 L243.88 737.4 L244.37 756.37 L244.86 774.16 L245.35 790.85 L245.84 806.49 L246.34 818.72 L246.83 829.73 L247.32 840.2 L247.81 850.15 L248.3 859.61 L248.79 868.61 L249.28 877.16 L249.77 885.29 L250.26 892.75 L250.75 898.84 L251.24 904.69 L251.73 910.3 L252.22 915.67 L252.71 920.83 L253.2 925.78 L253.69 930.53 L254.18 935.08 L254.67 939.44 L255.16 943.63 L255.65 947.65 L256.14 951.5 L256.64 953.98 L257.13 956.39 L257.62 958.74 L258.11 961.02 L258.6 963.24 L259.09 965.4 L259.58 967.5 L260.07 969.54 L260.56 971.53 L261.05 973.46 L261.54 975.34 L262.03 977.17 L262.52 978.94 L263.01 980.65 L263.5 982.09 L263.99 983.5 L264.48 984.87 L264.97 986.21 L265.46 987.53 L265.95 988.81 L266.44 990.06 L266.94 991.28 L267.43 992.47 L267.92 993.63 L268.41 994.77 L268.9 995.88 L269.39 996.96 L269.88 998.02 L270.37 999.06 L270.86 1000.06 L271.35 1001.05 L271.84 1002.01 L272.33 1002.95 L272.82 1003.87 L273.31 1004.82 L273.8 1005.86 L274.29 1006.87 L274.78 1007.85 L275.27 1008.8 L275.76 1009.73 L276.25 1010.63 L276.74 1011.51 L277.23 1012.36 L277.73 1013.19 L278.22 1014 L278.71 1014.78 L279.2 1015.54 L279.69 1016.28 L280.18 1017 L280.67 1017.7 L281.16 1018.38 L281.65 1019.04 L282.14 1019.68 L282.63 1020.31 L283.12 1020.91 L283.61 1021.5 L284.1 1022.07 L284.59 1022.63 L285.08 1023.17 L285.57 1023.7 L286.06 1024.21 L286.55 1024.71 L287.04 1025.35 L287.53 1026.2 L288.03 1027 L288.52 1027.77 L289.01 1028.49 L289.5 1029.18 L289.99 1029.83 L290.48 1030.45 L290.97 1031.04 L291.46 1031.6 L291.95 1032.13 L292.44 1032.63 L292.93 1033.11 L293.42 1033.56 L293.91 1033.99 L294.4 1034.4 L294.89 1034.78 L295.38 1035.15 L295.87 1035.5 L296.36 1036.2 L296.85 1036.83 L297.34 1037.39 L297.83 1037.89 L298.33 1038.33 L298.82 1038.73 L299.31 1039.08 L299.8 1039.4 L300.29 1039.68 L300.78 1039.93 L301.27 1040.16 L301.76 1040.36 L302.25 1040.58 L302.74 1040.9 L303.23 1041.16 L303.72 1041.35 L304.21 1041.5 L333.15 1041.5" stroke="#d55e00" stroke-width="4.3" fill="none" stroke-linejoin="round" stroke-linecap="round"/>
<g stroke="#000" stroke-width="2" stroke-dasharray="6.2 4.77" stroke-dashoffset="4.57">
<line x1="333.15" y1="480" x2="333.15" y2="1063"/>
<line x1="446.45" y1="480" x2="446.45" y2="1063"/>
<line x1="559.75" y1="480" x2="559.75" y2="1063"/>
<line x1="673.04" y1="480" x2="673.04" y2="1063"/>
</g></g>
<rect x="193.1" y="480" width="715.2" height="583.05" fill="none" stroke="#000" stroke-width="1.85" stroke-linejoin="round"/>
<line x1="219.85" y1="1063" x2="219.85" y2="1075.6" stroke="#000" stroke-width="1.8" stroke-linecap="round"/><text x="219.85" y="1110.5" text-anchor="middle" class="ax">0</text>
<line x1="317.94" y1="1063" x2="317.94" y2="1075.6" stroke="#000" stroke-width="1.8" stroke-linecap="round"/><text x="317.94" y="1110.5" text-anchor="middle" class="ax">20</text>
<line x1="416.04" y1="1063" x2="416.04" y2="1075.6" stroke="#000" stroke-width="1.8" stroke-linecap="round"/><text x="416.04" y="1110.5" text-anchor="middle" class="ax">40</text>
<line x1="514.13" y1="1063" x2="514.13" y2="1075.6" stroke="#000" stroke-width="1.8" stroke-linecap="round"/><text x="514.13" y="1110.5" text-anchor="middle" class="ax">60</text>
<line x1="612.23" y1="1063" x2="612.23" y2="1075.6" stroke="#000" stroke-width="1.8" stroke-linecap="round"/><text x="612.23" y="1110.5" text-anchor="middle" class="ax">80</text>
<line x1="710.32" y1="1063" x2="710.32" y2="1075.6" stroke="#000" stroke-width="1.8" stroke-linecap="round"/><text x="710.32" y="1110.5" text-anchor="middle" class="ax">100</text>
<line x1="808.41" y1="1063" x2="808.41" y2="1075.6" stroke="#000" stroke-width="1.8" stroke-linecap="round"/><text x="808.41" y="1110.5" text-anchor="middle" class="ax">120</text>
<line x1="906.51" y1="1063" x2="906.51" y2="1075.6" stroke="#000" stroke-width="1.8" stroke-linecap="round"/><text x="906.51" y="1110.5" text-anchor="middle" class="ax">140</text>
<line x1="180.6" y1="1041.5" x2="193" y2="1041.5" stroke="#000" stroke-width="1.8" stroke-linecap="round"/><text transform="translate(161.5 1041.5) rotate(-90)" text-anchor="middle" class="ax">0.0e+00</text>
<line x1="180.6" y1="924.15" x2="193" y2="924.15" stroke="#000" stroke-width="1.8" stroke-linecap="round"/><text transform="translate(161.5 924.15) rotate(-90)" text-anchor="middle" class="ax">5.0e+06</text>
<line x1="180.6" y1="806.8" x2="193" y2="806.8" stroke="#000" stroke-width="1.8" stroke-linecap="round"/><text transform="translate(161.5 806.8) rotate(-90)" text-anchor="middle" class="ax">1.0e+07</text>
<line x1="180.6" y1="689.45" x2="193" y2="689.45" stroke="#000" stroke-width="1.8" stroke-linecap="round"/><text transform="translate(161.5 689.45) rotate(-90)" text-anchor="middle" class="ax">1.5e+07</text>
<line x1="180.6" y1="572.1" x2="193" y2="572.1" stroke="#000" stroke-width="1.8" stroke-linecap="round"/><text transform="translate(161.5 572.1) rotate(-90)" text-anchor="middle" class="ax">2.0e+07</text>
<text x="550.5" y="1162.5" text-anchor="middle" class="ax">Coverage</text>
<text transform="translate(109 771) rotate(-90)" text-anchor="middle" class="ax">Frequency</text>
<text x="551.3" y="361.6" text-anchor="middle" class="ti">GenomeScope Profile</text>
<text x="549" y="407.4" text-anchor="middle" class="st" style="font-size:19.1px">len:938,086,933bp uniq:57.8%</text>
<text x="549.9" y="428" text-anchor="middle" class="st">aa:99% ab:0.983%</text>
<text x="553.7" y="449.5" text-anchor="middle" class="st" xml:space="preserve">kcov:23.1 err:0.334%  dup:0.573  k:21 p:2</text>
<rect x="630.2" y="501.7" width="257.6" height="158.1" fill="#fff" stroke="#000" stroke-width="1.6"/>
<line x1="650" y1="527.4" x2="689.4" y2="527.4" stroke="#56b4e9" stroke-width="4" stroke-linecap="round"/><text x="708.9" y="536.1" class="lg">observed</text>
<line x1="650" y1="553.9" x2="689.4" y2="553.9" stroke="#000" stroke-width="4" stroke-linecap="round"/><text x="708.9" y="562.1" class="lg">full model</text>
<line x1="650" y1="580.4" x2="689.4" y2="580.4" stroke="#ebef3f" stroke-width="4" stroke-linecap="round"/><text x="708.9" y="588.1" class="lg">unique sequence</text>
<line x1="650" y1="606.9" x2="689.4" y2="606.9" stroke="#d55e00" stroke-width="4" stroke-linecap="round"/><text x="708.9" y="614.1" class="lg">errors</text>
<line x1="649.9" y1="633.4" x2="683.4" y2="633.4" stroke="#000" stroke-width="2.6" stroke-linecap="round" stroke-dasharray="11.6 12.2"/><text x="708.9" y="640.1" class="lg">kmer-peaks</text>

</svg></body></html>
